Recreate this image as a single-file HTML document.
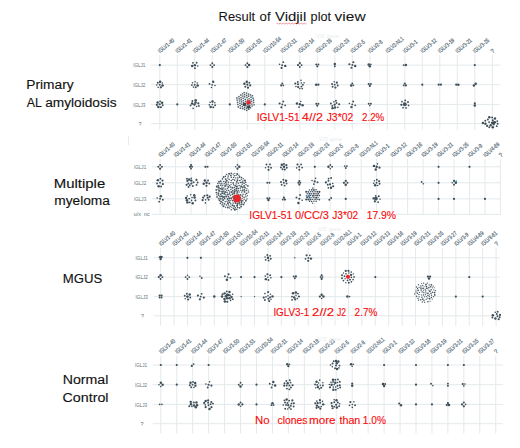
<!DOCTYPE html>
<html><head><meta charset="utf-8"><style>
html,body{margin:0;padding:0;background:#fff;width:520px;height:448px;overflow:hidden}
svg{display:block}
text{font-family:"Liberation Sans",sans-serif}
</style></head><body>
<svg width="520" height="448" viewBox="0 0 520 448" font-family="Liberation Sans, sans-serif">
<rect width="520" height="448" fill="#fff"/>
<text x="218.6" y="21.2" font-size="12.4" fill="#151515" textLength="36.58" lengthAdjust="spacingAndGlyphs" stroke="#151515" stroke-width="0.06" xml:space="preserve">Result</text>
<text x="259.6" y="21.2" font-size="12.4" fill="#151515" textLength="11.0" lengthAdjust="spacingAndGlyphs" stroke="#151515" stroke-width="0.06" xml:space="preserve">of</text>
<text x="275.0" y="21.2" font-size="12.4" fill="#151515" textLength="31.2" lengthAdjust="spacingAndGlyphs" stroke="#151515" stroke-width="0.06" xml:space="preserve">Vidjil</text>
<text x="310.6" y="21.2" font-size="12.4" fill="#151515" textLength="20.4" lengthAdjust="spacingAndGlyphs" stroke="#151515" stroke-width="0.06" xml:space="preserve">plot</text>
<text x="334.6" y="21.2" font-size="12.4" fill="#151515" textLength="30.98" lengthAdjust="spacingAndGlyphs" stroke="#151515" stroke-width="0.06" xml:space="preserve">view</text>
<path d="M276.5 23.6 q0.75 -0.9 1.5 0 t1.5 0 t1.5 0 t1.5 0 t1.5 0 t1.5 0 t1.5 0 t1.5 0 t1.5 0 t1.5 0 t1.5 0 t1.5 0 t1.5 0 t1.5 0 t1.5 0 t1.5 0 t1.5 0 t1.5 0 t1.5 0 t1.5 0" fill="none" stroke="#e05050" stroke-width="0.6"/>
<text x="26.3" y="89.2" font-size="12.3" fill="#111" textLength="47.3" lengthAdjust="spacingAndGlyphs" stroke="#111" stroke-width="0.12" xml:space="preserve">Primary</text>
<text x="26.7" y="106.6" font-size="12.3" fill="#111" textLength="15.15" lengthAdjust="spacingAndGlyphs" stroke="#111" stroke-width="0.12" xml:space="preserve">AL</text>
<text x="45.2" y="106.6" font-size="12.3" fill="#111" textLength="71.53" lengthAdjust="spacingAndGlyphs" stroke="#111" stroke-width="0.12" xml:space="preserve">amyloidosis</text>
<text x="53.75" y="187.5" font-size="12.3" fill="#111" textLength="51.48" lengthAdjust="spacingAndGlyphs" stroke="#111" stroke-width="0.12" xml:space="preserve">Multiple</text>
<text x="54.25" y="205.3" font-size="12.3" fill="#111" textLength="55.7" lengthAdjust="spacingAndGlyphs" stroke="#111" stroke-width="0.12" xml:space="preserve">myeloma</text>
<text x="62.8" y="282.5" font-size="12.3" fill="#111" textLength="39.51" lengthAdjust="spacingAndGlyphs" stroke="#111" stroke-width="0.12" xml:space="preserve">MGUS</text>
<text x="62.8" y="384.0" font-size="12.3" fill="#111" textLength="45.59" lengthAdjust="spacingAndGlyphs" stroke="#111" stroke-width="0.12" xml:space="preserve">Normal</text>
<text x="62.5" y="401.6" font-size="12.3" fill="#111" textLength="46.0" lengthAdjust="spacingAndGlyphs" stroke="#111" stroke-width="0.12" xml:space="preserve">Control</text>
<line x1="159.80" y1="55" x2="159.80" y2="129.8" stroke="#e4e9eb" stroke-width="1"/>
<line x1="177.30" y1="55" x2="177.30" y2="129.8" stroke="#e4e9eb" stroke-width="1"/>
<line x1="194.80" y1="55" x2="194.80" y2="129.8" stroke="#e4e9eb" stroke-width="1"/>
<line x1="212.30" y1="55" x2="212.30" y2="129.8" stroke="#e4e9eb" stroke-width="1"/>
<line x1="229.80" y1="55" x2="229.80" y2="129.8" stroke="#e4e9eb" stroke-width="1"/>
<line x1="247.30" y1="55" x2="247.30" y2="129.8" stroke="#e4e9eb" stroke-width="1"/>
<line x1="264.80" y1="55" x2="264.80" y2="129.8" stroke="#e4e9eb" stroke-width="1"/>
<line x1="282.30" y1="55" x2="282.30" y2="129.8" stroke="#e4e9eb" stroke-width="1"/>
<line x1="299.80" y1="55" x2="299.80" y2="129.8" stroke="#e4e9eb" stroke-width="1"/>
<line x1="317.30" y1="55" x2="317.30" y2="129.8" stroke="#e4e9eb" stroke-width="1"/>
<line x1="334.80" y1="55" x2="334.80" y2="129.8" stroke="#e4e9eb" stroke-width="1"/>
<line x1="352.30" y1="55" x2="352.30" y2="129.8" stroke="#e4e9eb" stroke-width="1"/>
<line x1="369.80" y1="55" x2="369.80" y2="129.8" stroke="#e4e9eb" stroke-width="1"/>
<line x1="387.30" y1="55" x2="387.30" y2="129.8" stroke="#e4e9eb" stroke-width="1"/>
<line x1="404.80" y1="55" x2="404.80" y2="129.8" stroke="#e4e9eb" stroke-width="1"/>
<line x1="422.30" y1="55" x2="422.30" y2="129.8" stroke="#e4e9eb" stroke-width="1"/>
<line x1="439.80" y1="55" x2="439.80" y2="129.8" stroke="#e4e9eb" stroke-width="1"/>
<line x1="457.30" y1="55" x2="457.30" y2="129.8" stroke="#e4e9eb" stroke-width="1"/>
<line x1="474.80" y1="55" x2="474.80" y2="129.8" stroke="#e4e9eb" stroke-width="1"/>
<line x1="492.30" y1="55" x2="492.30" y2="129.8" stroke="#e4e9eb" stroke-width="1"/>
<line x1="151" y1="65.10" x2="500.3" y2="65.10" stroke="#e4e9eb" stroke-width="1"/>
<line x1="151" y1="84.70" x2="500.3" y2="84.70" stroke="#e4e9eb" stroke-width="1"/>
<line x1="151" y1="104.40" x2="500.3" y2="104.40" stroke="#e4e9eb" stroke-width="1"/>
<line x1="151" y1="123.70" x2="500.3" y2="123.70" stroke="#e4e9eb" stroke-width="1"/>
<text x="133.2" y="67.3" font-size="6.1" fill="#62727c" textLength="12.2" lengthAdjust="spacingAndGlyphs" xml:space="preserve">IGLJ1</text>
<text x="133.2" y="86.9" font-size="6.1" fill="#62727c" textLength="12.2" lengthAdjust="spacingAndGlyphs" xml:space="preserve">IGLJ2</text>
<text x="133.2" y="106.60000000000001" font-size="6.1" fill="#62727c" textLength="12.2" lengthAdjust="spacingAndGlyphs" xml:space="preserve">IGLJ3</text>
<text x="138.6" y="125.60000000000001" font-size="5.4" fill="#62727c" xml:space="preserve">?</text>
<text transform="translate(160.10,53.40) rotate(-40)" font-size="6.0" fill="#4f6470" stroke="#4f6470" stroke-width="0.18" textLength="19.2" lengthAdjust="spacingAndGlyphs">IGLV1-40</text>
<text transform="translate(177.60,53.40) rotate(-40)" font-size="6.0" fill="#4f6470" stroke="#4f6470" stroke-width="0.18" textLength="19.2" lengthAdjust="spacingAndGlyphs">IGLV1-41</text>
<text transform="translate(195.10,53.40) rotate(-40)" font-size="6.0" fill="#4f6470" stroke="#4f6470" stroke-width="0.18" textLength="19.2" lengthAdjust="spacingAndGlyphs">IGLV1-44</text>
<text transform="translate(212.60,53.40) rotate(-40)" font-size="6.0" fill="#4f6470" stroke="#4f6470" stroke-width="0.18" textLength="19.2" lengthAdjust="spacingAndGlyphs">IGLV1-47</text>
<text transform="translate(230.10,53.40) rotate(-40)" font-size="6.0" fill="#4f6470" stroke="#4f6470" stroke-width="0.18" textLength="19.2" lengthAdjust="spacingAndGlyphs">IGLV1-50</text>
<text transform="translate(247.60,53.40) rotate(-40)" font-size="6.0" fill="#4f6470" stroke="#4f6470" stroke-width="0.18" textLength="19.2" lengthAdjust="spacingAndGlyphs">IGLV1-51</text>
<text transform="translate(265.10,53.40) rotate(-40)" font-size="6.0" fill="#4f6470" stroke="#4f6470" stroke-width="0.18" textLength="21.6" lengthAdjust="spacingAndGlyphs">IGLV10-54</text>
<text transform="translate(282.60,53.40) rotate(-40)" font-size="6.0" fill="#4f6470" stroke="#4f6470" stroke-width="0.18" textLength="19.2" lengthAdjust="spacingAndGlyphs">IGLV2-11</text>
<text transform="translate(300.10,53.40) rotate(-40)" font-size="6.0" fill="#4f6470" stroke="#4f6470" stroke-width="0.18" textLength="19.2" lengthAdjust="spacingAndGlyphs">IGLV2-14</text>
<text transform="translate(317.60,53.40) rotate(-40)" font-size="6.0" fill="#4f6470" stroke="#4f6470" stroke-width="0.18" textLength="19.2" lengthAdjust="spacingAndGlyphs">IGLV2-18</text>
<text transform="translate(335.10,53.40) rotate(-40)" font-size="6.0" fill="#4f6470" stroke="#4f6470" stroke-width="0.18" textLength="19.2" lengthAdjust="spacingAndGlyphs">IGLV2-23</text>
<text transform="translate(352.60,53.40) rotate(-40)" font-size="6.0" fill="#4f6470" stroke="#4f6470" stroke-width="0.18" textLength="16.8" lengthAdjust="spacingAndGlyphs">IGLV2-5</text>
<text transform="translate(370.10,53.40) rotate(-40)" font-size="6.0" fill="#4f6470" stroke="#4f6470" stroke-width="0.18" textLength="16.8" lengthAdjust="spacingAndGlyphs">IGLV2-8</text>
<text transform="translate(387.60,53.40) rotate(-40)" font-size="6.0" fill="#4f6470" stroke="#4f6470" stroke-width="0.18" textLength="21.6" lengthAdjust="spacingAndGlyphs">IGLV2-NL1</text>
<text transform="translate(405.10,53.40) rotate(-40)" font-size="6.0" fill="#4f6470" stroke="#4f6470" stroke-width="0.18" textLength="16.8" lengthAdjust="spacingAndGlyphs">IGLV3-1</text>
<text transform="translate(422.60,53.40) rotate(-40)" font-size="6.0" fill="#4f6470" stroke="#4f6470" stroke-width="0.18" textLength="19.2" lengthAdjust="spacingAndGlyphs">IGLV3-12</text>
<text transform="translate(440.10,53.40) rotate(-40)" font-size="6.0" fill="#4f6470" stroke="#4f6470" stroke-width="0.18" textLength="19.2" lengthAdjust="spacingAndGlyphs">IGLV3-19</text>
<text transform="translate(457.60,53.40) rotate(-40)" font-size="6.0" fill="#4f6470" stroke="#4f6470" stroke-width="0.18" textLength="19.2" lengthAdjust="spacingAndGlyphs">IGLV3-21</text>
<text transform="translate(475.10,53.40) rotate(-40)" font-size="6.0" fill="#4f6470" stroke="#4f6470" stroke-width="0.18" textLength="19.2" lengthAdjust="spacingAndGlyphs">IGLV3-25</text>
<text transform="translate(492.60,53.40) rotate(-40)" font-size="6.0" fill="#4f6470" stroke="#4f6470" stroke-width="0.18">?</text>
<line x1="160.10" y1="159.1" x2="160.10" y2="214.8" stroke="#e4e9eb" stroke-width="1"/>
<line x1="175.57" y1="159.1" x2="175.57" y2="214.8" stroke="#e4e9eb" stroke-width="1"/>
<line x1="191.04" y1="159.1" x2="191.04" y2="214.8" stroke="#e4e9eb" stroke-width="1"/>
<line x1="206.51" y1="159.1" x2="206.51" y2="214.8" stroke="#e4e9eb" stroke-width="1"/>
<line x1="221.98" y1="159.1" x2="221.98" y2="214.8" stroke="#e4e9eb" stroke-width="1"/>
<line x1="237.45" y1="159.1" x2="237.45" y2="214.8" stroke="#e4e9eb" stroke-width="1"/>
<line x1="252.92" y1="159.1" x2="252.92" y2="214.8" stroke="#e4e9eb" stroke-width="1"/>
<line x1="268.39" y1="159.1" x2="268.39" y2="214.8" stroke="#e4e9eb" stroke-width="1"/>
<line x1="283.86" y1="159.1" x2="283.86" y2="214.8" stroke="#e4e9eb" stroke-width="1"/>
<line x1="299.33" y1="159.1" x2="299.33" y2="214.8" stroke="#e4e9eb" stroke-width="1"/>
<line x1="314.80" y1="159.1" x2="314.80" y2="214.8" stroke="#e4e9eb" stroke-width="1"/>
<line x1="330.27" y1="159.1" x2="330.27" y2="214.8" stroke="#e4e9eb" stroke-width="1"/>
<line x1="345.74" y1="159.1" x2="345.74" y2="214.8" stroke="#e4e9eb" stroke-width="1"/>
<line x1="361.21" y1="159.1" x2="361.21" y2="214.8" stroke="#e4e9eb" stroke-width="1"/>
<line x1="376.68" y1="159.1" x2="376.68" y2="214.8" stroke="#e4e9eb" stroke-width="1"/>
<line x1="392.15" y1="159.1" x2="392.15" y2="214.8" stroke="#e4e9eb" stroke-width="1"/>
<line x1="407.62" y1="159.1" x2="407.62" y2="214.8" stroke="#e4e9eb" stroke-width="1"/>
<line x1="423.09" y1="159.1" x2="423.09" y2="214.8" stroke="#e4e9eb" stroke-width="1"/>
<line x1="438.56" y1="159.1" x2="438.56" y2="214.8" stroke="#e4e9eb" stroke-width="1"/>
<line x1="454.03" y1="159.1" x2="454.03" y2="214.8" stroke="#e4e9eb" stroke-width="1"/>
<line x1="469.50" y1="159.1" x2="469.50" y2="214.8" stroke="#e4e9eb" stroke-width="1"/>
<line x1="484.97" y1="159.1" x2="484.97" y2="214.8" stroke="#e4e9eb" stroke-width="1"/>
<line x1="500.44" y1="159.1" x2="500.44" y2="214.8" stroke="#e4e9eb" stroke-width="1"/>
<line x1="152" y1="166.80" x2="500.5" y2="166.80" stroke="#e4e9eb" stroke-width="1"/>
<line x1="152" y1="182.80" x2="500.5" y2="182.80" stroke="#e4e9eb" stroke-width="1"/>
<line x1="152" y1="198.90" x2="500.5" y2="198.90" stroke="#e4e9eb" stroke-width="1"/>
<line x1="152" y1="214.40" x2="500.5" y2="214.40" stroke="#e4e9eb" stroke-width="1"/>
<text x="134.0" y="169.0" font-size="6.1" fill="#62727c" textLength="12.2" lengthAdjust="spacingAndGlyphs" xml:space="preserve">IGLJ1</text>
<text x="134.0" y="185.0" font-size="6.1" fill="#62727c" textLength="12.2" lengthAdjust="spacingAndGlyphs" xml:space="preserve">IGLJ2</text>
<text x="134.0" y="201.1" font-size="6.1" fill="#62727c" textLength="12.2" lengthAdjust="spacingAndGlyphs" xml:space="preserve">IGLJ3</text>
<text x="133.8" y="216.3" font-size="5.4" fill="#62727c" xml:space="preserve">u/x  nc</text>
<text transform="translate(160.40,157.50) rotate(-40)" font-size="6.0" fill="#4f6470" stroke="#4f6470" stroke-width="0.18" textLength="19.2" lengthAdjust="spacingAndGlyphs">IGLV1-40</text>
<text transform="translate(175.87,157.50) rotate(-40)" font-size="6.0" fill="#4f6470" stroke="#4f6470" stroke-width="0.18" textLength="19.2" lengthAdjust="spacingAndGlyphs">IGLV1-41</text>
<text transform="translate(191.34,157.50) rotate(-40)" font-size="6.0" fill="#4f6470" stroke="#4f6470" stroke-width="0.18" textLength="19.2" lengthAdjust="spacingAndGlyphs">IGLV1-44</text>
<text transform="translate(206.81,157.50) rotate(-40)" font-size="6.0" fill="#4f6470" stroke="#4f6470" stroke-width="0.18" textLength="19.2" lengthAdjust="spacingAndGlyphs">IGLV1-47</text>
<text transform="translate(222.28,157.50) rotate(-40)" font-size="6.0" fill="#4f6470" stroke="#4f6470" stroke-width="0.18" textLength="19.2" lengthAdjust="spacingAndGlyphs">IGLV1-50</text>
<text transform="translate(237.75,157.50) rotate(-40)" font-size="6.0" fill="#4f6470" stroke="#4f6470" stroke-width="0.18" textLength="19.2" lengthAdjust="spacingAndGlyphs">IGLV1-51</text>
<text transform="translate(253.22,157.50) rotate(-40)" font-size="6.0" fill="#4f6470" stroke="#4f6470" stroke-width="0.18" textLength="21.6" lengthAdjust="spacingAndGlyphs">IGLV10-54</text>
<text transform="translate(268.69,157.50) rotate(-40)" font-size="6.0" fill="#4f6470" stroke="#4f6470" stroke-width="0.18" textLength="19.2" lengthAdjust="spacingAndGlyphs">IGLV2-11</text>
<text transform="translate(284.16,157.50) rotate(-40)" font-size="6.0" fill="#4f6470" stroke="#4f6470" stroke-width="0.18" textLength="19.2" lengthAdjust="spacingAndGlyphs">IGLV2-14</text>
<text transform="translate(299.63,157.50) rotate(-40)" font-size="6.0" fill="#4f6470" stroke="#4f6470" stroke-width="0.18" textLength="19.2" lengthAdjust="spacingAndGlyphs">IGLV2-18</text>
<text transform="translate(315.10,157.50) rotate(-40)" font-size="6.0" fill="#4f6470" stroke="#4f6470" stroke-width="0.18" textLength="19.2" lengthAdjust="spacingAndGlyphs">IGLV2-23</text>
<text transform="translate(330.57,157.50) rotate(-40)" font-size="6.0" fill="#4f6470" stroke="#4f6470" stroke-width="0.18" textLength="16.8" lengthAdjust="spacingAndGlyphs">IGLV2-5</text>
<text transform="translate(346.04,157.50) rotate(-40)" font-size="6.0" fill="#4f6470" stroke="#4f6470" stroke-width="0.18" textLength="16.8" lengthAdjust="spacingAndGlyphs">IGLV2-8</text>
<text transform="translate(361.51,157.50) rotate(-40)" font-size="6.0" fill="#4f6470" stroke="#4f6470" stroke-width="0.18" textLength="21.6" lengthAdjust="spacingAndGlyphs">IGLV2-NL1</text>
<text transform="translate(376.98,157.50) rotate(-40)" font-size="6.0" fill="#4f6470" stroke="#4f6470" stroke-width="0.18" textLength="16.8" lengthAdjust="spacingAndGlyphs">IGLV3-1</text>
<text transform="translate(392.45,157.50) rotate(-40)" font-size="6.0" fill="#4f6470" stroke="#4f6470" stroke-width="0.18" textLength="19.2" lengthAdjust="spacingAndGlyphs">IGLV3-12</text>
<text transform="translate(407.92,157.50) rotate(-40)" font-size="6.0" fill="#4f6470" stroke="#4f6470" stroke-width="0.18" textLength="19.2" lengthAdjust="spacingAndGlyphs">IGLV3-16</text>
<text transform="translate(423.39,157.50) rotate(-40)" font-size="6.0" fill="#4f6470" stroke="#4f6470" stroke-width="0.18" textLength="19.2" lengthAdjust="spacingAndGlyphs">IGLV3-19</text>
<text transform="translate(438.86,157.50) rotate(-40)" font-size="6.0" fill="#4f6470" stroke="#4f6470" stroke-width="0.18" textLength="19.2" lengthAdjust="spacingAndGlyphs">IGLV3-21</text>
<text transform="translate(454.33,157.50) rotate(-40)" font-size="6.0" fill="#4f6470" stroke="#4f6470" stroke-width="0.18" textLength="19.2" lengthAdjust="spacingAndGlyphs">IGLV3-25</text>
<text transform="translate(469.80,157.50) rotate(-40)" font-size="6.0" fill="#4f6470" stroke="#4f6470" stroke-width="0.18" textLength="16.8" lengthAdjust="spacingAndGlyphs">IGLV3-9</text>
<text transform="translate(485.27,157.50) rotate(-40)" font-size="6.0" fill="#4f6470" stroke="#4f6470" stroke-width="0.18" textLength="19.2" lengthAdjust="spacingAndGlyphs">IGLV4-69</text>
<text transform="translate(500.74,157.50) rotate(-40)" font-size="6.0" fill="#4f6470" stroke="#4f6470" stroke-width="0.18">?</text>
<line x1="160.60" y1="247.8" x2="160.60" y2="325.9" stroke="#e4e9eb" stroke-width="1"/>
<line x1="174.02" y1="247.8" x2="174.02" y2="325.9" stroke="#e4e9eb" stroke-width="1"/>
<line x1="187.44" y1="247.8" x2="187.44" y2="325.9" stroke="#e4e9eb" stroke-width="1"/>
<line x1="200.86" y1="247.8" x2="200.86" y2="325.9" stroke="#e4e9eb" stroke-width="1"/>
<line x1="214.28" y1="247.8" x2="214.28" y2="325.9" stroke="#e4e9eb" stroke-width="1"/>
<line x1="227.70" y1="247.8" x2="227.70" y2="325.9" stroke="#e4e9eb" stroke-width="1"/>
<line x1="241.12" y1="247.8" x2="241.12" y2="325.9" stroke="#e4e9eb" stroke-width="1"/>
<line x1="254.54" y1="247.8" x2="254.54" y2="325.9" stroke="#e4e9eb" stroke-width="1"/>
<line x1="267.96" y1="247.8" x2="267.96" y2="325.9" stroke="#e4e9eb" stroke-width="1"/>
<line x1="281.38" y1="247.8" x2="281.38" y2="325.9" stroke="#e4e9eb" stroke-width="1"/>
<line x1="294.80" y1="247.8" x2="294.80" y2="325.9" stroke="#e4e9eb" stroke-width="1"/>
<line x1="308.22" y1="247.8" x2="308.22" y2="325.9" stroke="#e4e9eb" stroke-width="1"/>
<line x1="321.64" y1="247.8" x2="321.64" y2="325.9" stroke="#e4e9eb" stroke-width="1"/>
<line x1="335.06" y1="247.8" x2="335.06" y2="325.9" stroke="#e4e9eb" stroke-width="1"/>
<line x1="348.48" y1="247.8" x2="348.48" y2="325.9" stroke="#e4e9eb" stroke-width="1"/>
<line x1="361.90" y1="247.8" x2="361.90" y2="325.9" stroke="#e4e9eb" stroke-width="1"/>
<line x1="375.32" y1="247.8" x2="375.32" y2="325.9" stroke="#e4e9eb" stroke-width="1"/>
<line x1="388.74" y1="247.8" x2="388.74" y2="325.9" stroke="#e4e9eb" stroke-width="1"/>
<line x1="402.16" y1="247.8" x2="402.16" y2="325.9" stroke="#e4e9eb" stroke-width="1"/>
<line x1="415.58" y1="247.8" x2="415.58" y2="325.9" stroke="#e4e9eb" stroke-width="1"/>
<line x1="429.00" y1="247.8" x2="429.00" y2="325.9" stroke="#e4e9eb" stroke-width="1"/>
<line x1="442.42" y1="247.8" x2="442.42" y2="325.9" stroke="#e4e9eb" stroke-width="1"/>
<line x1="455.84" y1="247.8" x2="455.84" y2="325.9" stroke="#e4e9eb" stroke-width="1"/>
<line x1="469.26" y1="247.8" x2="469.26" y2="325.9" stroke="#e4e9eb" stroke-width="1"/>
<line x1="482.68" y1="247.8" x2="482.68" y2="325.9" stroke="#e4e9eb" stroke-width="1"/>
<line x1="496.10" y1="247.8" x2="496.10" y2="325.9" stroke="#e4e9eb" stroke-width="1"/>
<line x1="153.6" y1="257.80" x2="499.8" y2="257.80" stroke="#e4e9eb" stroke-width="1"/>
<line x1="153.6" y1="277.10" x2="499.8" y2="277.10" stroke="#e4e9eb" stroke-width="1"/>
<line x1="153.6" y1="296.60" x2="499.8" y2="296.60" stroke="#e4e9eb" stroke-width="1"/>
<line x1="153.6" y1="315.80" x2="499.8" y2="315.80" stroke="#e4e9eb" stroke-width="1"/>
<text x="135.6" y="260.0" font-size="6.1" fill="#62727c" textLength="12.2" lengthAdjust="spacingAndGlyphs" xml:space="preserve">IGLJ1</text>
<text x="135.6" y="279.3" font-size="6.1" fill="#62727c" textLength="12.2" lengthAdjust="spacingAndGlyphs" xml:space="preserve">IGLJ2</text>
<text x="135.6" y="298.8" font-size="6.1" fill="#62727c" textLength="12.2" lengthAdjust="spacingAndGlyphs" xml:space="preserve">IGLJ3</text>
<text x="141.0" y="317.7" font-size="5.4" fill="#62727c" xml:space="preserve">?</text>
<text transform="translate(160.90,246.20) rotate(-40)" font-size="6.0" fill="#4f6470" stroke="#4f6470" stroke-width="0.18" textLength="19.2" lengthAdjust="spacingAndGlyphs">IGLV1-40</text>
<text transform="translate(174.32,246.20) rotate(-40)" font-size="6.0" fill="#4f6470" stroke="#4f6470" stroke-width="0.18" textLength="19.2" lengthAdjust="spacingAndGlyphs">IGLV1-41</text>
<text transform="translate(187.74,246.20) rotate(-40)" font-size="6.0" fill="#4f6470" stroke="#4f6470" stroke-width="0.18" textLength="19.2" lengthAdjust="spacingAndGlyphs">IGLV1-44</text>
<text transform="translate(201.16,246.20) rotate(-40)" font-size="6.0" fill="#4f6470" stroke="#4f6470" stroke-width="0.18" textLength="19.2" lengthAdjust="spacingAndGlyphs">IGLV1-47</text>
<text transform="translate(214.58,246.20) rotate(-40)" font-size="6.0" fill="#4f6470" stroke="#4f6470" stroke-width="0.18" textLength="19.2" lengthAdjust="spacingAndGlyphs">IGLV1-50</text>
<text transform="translate(228.00,246.20) rotate(-40)" font-size="6.0" fill="#4f6470" stroke="#4f6470" stroke-width="0.18" textLength="19.2" lengthAdjust="spacingAndGlyphs">IGLV1-51</text>
<text transform="translate(241.42,246.20) rotate(-40)" font-size="6.0" fill="#4f6470" stroke="#4f6470" stroke-width="0.18" textLength="21.6" lengthAdjust="spacingAndGlyphs">IGLV10-54</text>
<text transform="translate(254.84,246.20) rotate(-40)" font-size="6.0" fill="#4f6470" stroke="#4f6470" stroke-width="0.18" textLength="19.2" lengthAdjust="spacingAndGlyphs">IGLV2-11</text>
<text transform="translate(268.26,246.20) rotate(-40)" font-size="6.0" fill="#4f6470" stroke="#4f6470" stroke-width="0.18" textLength="19.2" lengthAdjust="spacingAndGlyphs">IGLV2-14</text>
<text transform="translate(281.68,246.20) rotate(-40)" font-size="6.0" fill="#4f6470" stroke="#4f6470" stroke-width="0.18" textLength="19.2" lengthAdjust="spacingAndGlyphs">IGLV2-18</text>
<text transform="translate(295.10,246.20) rotate(-40)" font-size="6.0" fill="#4f6470" stroke="#4f6470" stroke-width="0.18" textLength="19.2" lengthAdjust="spacingAndGlyphs">IGLV2-23</text>
<text transform="translate(308.52,246.20) rotate(-40)" font-size="6.0" fill="#4f6470" stroke="#4f6470" stroke-width="0.18" textLength="16.8" lengthAdjust="spacingAndGlyphs">IGLV2-5</text>
<text transform="translate(321.94,246.20) rotate(-40)" font-size="6.0" fill="#4f6470" stroke="#4f6470" stroke-width="0.18" textLength="16.8" lengthAdjust="spacingAndGlyphs">IGLV2-8</text>
<text transform="translate(335.36,246.20) rotate(-40)" font-size="6.0" fill="#4f6470" stroke="#4f6470" stroke-width="0.18" textLength="21.6" lengthAdjust="spacingAndGlyphs">IGLV2-NL1</text>
<text transform="translate(348.78,246.20) rotate(-40)" font-size="6.0" fill="#4f6470" stroke="#4f6470" stroke-width="0.18" textLength="16.8" lengthAdjust="spacingAndGlyphs">IGLV3-1</text>
<text transform="translate(362.20,246.20) rotate(-40)" font-size="6.0" fill="#4f6470" stroke="#4f6470" stroke-width="0.18" textLength="19.2" lengthAdjust="spacingAndGlyphs">IGLV3-12</text>
<text transform="translate(375.62,246.20) rotate(-40)" font-size="6.0" fill="#4f6470" stroke="#4f6470" stroke-width="0.18" textLength="19.2" lengthAdjust="spacingAndGlyphs">IGLV3-13</text>
<text transform="translate(389.04,246.20) rotate(-40)" font-size="6.0" fill="#4f6470" stroke="#4f6470" stroke-width="0.18" textLength="19.2" lengthAdjust="spacingAndGlyphs">IGLV3-16</text>
<text transform="translate(402.46,246.20) rotate(-40)" font-size="6.0" fill="#4f6470" stroke="#4f6470" stroke-width="0.18" textLength="19.2" lengthAdjust="spacingAndGlyphs">IGLV3-19</text>
<text transform="translate(415.88,246.20) rotate(-40)" font-size="6.0" fill="#4f6470" stroke="#4f6470" stroke-width="0.18" textLength="19.2" lengthAdjust="spacingAndGlyphs">IGLV3-21</text>
<text transform="translate(429.30,246.20) rotate(-40)" font-size="6.0" fill="#4f6470" stroke="#4f6470" stroke-width="0.18" textLength="19.2" lengthAdjust="spacingAndGlyphs">IGLV3-25</text>
<text transform="translate(442.72,246.20) rotate(-40)" font-size="6.0" fill="#4f6470" stroke="#4f6470" stroke-width="0.18" textLength="19.2" lengthAdjust="spacingAndGlyphs">IGLV3-27</text>
<text transform="translate(456.14,246.20) rotate(-40)" font-size="6.0" fill="#4f6470" stroke="#4f6470" stroke-width="0.18" textLength="16.8" lengthAdjust="spacingAndGlyphs">IGLV3-9</text>
<text transform="translate(469.56,246.20) rotate(-40)" font-size="6.0" fill="#4f6470" stroke="#4f6470" stroke-width="0.18" textLength="19.2" lengthAdjust="spacingAndGlyphs">IGLV4-69</text>
<text transform="translate(482.98,246.20) rotate(-40)" font-size="6.0" fill="#4f6470" stroke="#4f6470" stroke-width="0.18" textLength="19.2" lengthAdjust="spacingAndGlyphs">IGLV8-61</text>
<text transform="translate(496.40,246.20) rotate(-40)" font-size="6.0" fill="#4f6470" stroke="#4f6470" stroke-width="0.18">?</text>
<line x1="160.80" y1="355.6" x2="160.80" y2="433.5" stroke="#e4e9eb" stroke-width="1"/>
<line x1="176.75" y1="355.6" x2="176.75" y2="433.5" stroke="#e4e9eb" stroke-width="1"/>
<line x1="192.70" y1="355.6" x2="192.70" y2="433.5" stroke="#e4e9eb" stroke-width="1"/>
<line x1="208.65" y1="355.6" x2="208.65" y2="433.5" stroke="#e4e9eb" stroke-width="1"/>
<line x1="224.60" y1="355.6" x2="224.60" y2="433.5" stroke="#e4e9eb" stroke-width="1"/>
<line x1="240.55" y1="355.6" x2="240.55" y2="433.5" stroke="#e4e9eb" stroke-width="1"/>
<line x1="256.50" y1="355.6" x2="256.50" y2="433.5" stroke="#e4e9eb" stroke-width="1"/>
<line x1="272.45" y1="355.6" x2="272.45" y2="433.5" stroke="#e4e9eb" stroke-width="1"/>
<line x1="288.40" y1="355.6" x2="288.40" y2="433.5" stroke="#e4e9eb" stroke-width="1"/>
<line x1="304.35" y1="355.6" x2="304.35" y2="433.5" stroke="#e4e9eb" stroke-width="1"/>
<line x1="320.30" y1="355.6" x2="320.30" y2="433.5" stroke="#e4e9eb" stroke-width="1"/>
<line x1="336.25" y1="355.6" x2="336.25" y2="433.5" stroke="#e4e9eb" stroke-width="1"/>
<line x1="352.20" y1="355.6" x2="352.20" y2="433.5" stroke="#e4e9eb" stroke-width="1"/>
<line x1="368.15" y1="355.6" x2="368.15" y2="433.5" stroke="#e4e9eb" stroke-width="1"/>
<line x1="384.10" y1="355.6" x2="384.10" y2="433.5" stroke="#e4e9eb" stroke-width="1"/>
<line x1="400.05" y1="355.6" x2="400.05" y2="433.5" stroke="#e4e9eb" stroke-width="1"/>
<line x1="416.00" y1="355.6" x2="416.00" y2="433.5" stroke="#e4e9eb" stroke-width="1"/>
<line x1="431.95" y1="355.6" x2="431.95" y2="433.5" stroke="#e4e9eb" stroke-width="1"/>
<line x1="447.90" y1="355.6" x2="447.90" y2="433.5" stroke="#e4e9eb" stroke-width="1"/>
<line x1="463.85" y1="355.6" x2="463.85" y2="433.5" stroke="#e4e9eb" stroke-width="1"/>
<line x1="479.80" y1="355.6" x2="479.80" y2="433.5" stroke="#e4e9eb" stroke-width="1"/>
<line x1="495.75" y1="355.6" x2="495.75" y2="433.5" stroke="#e4e9eb" stroke-width="1"/>
<line x1="152.7" y1="365.00" x2="503" y2="365.00" stroke="#e4e9eb" stroke-width="1"/>
<line x1="152.7" y1="384.70" x2="503" y2="384.70" stroke="#e4e9eb" stroke-width="1"/>
<line x1="152.7" y1="404.40" x2="503" y2="404.40" stroke="#e4e9eb" stroke-width="1"/>
<line x1="152.7" y1="423.70" x2="503" y2="423.70" stroke="#e4e9eb" stroke-width="1"/>
<text x="134.9" y="367.2" font-size="6.1" fill="#62727c" textLength="12.2" lengthAdjust="spacingAndGlyphs" xml:space="preserve">IGLJ1</text>
<text x="134.9" y="386.9" font-size="6.1" fill="#62727c" textLength="12.2" lengthAdjust="spacingAndGlyphs" xml:space="preserve">IGLJ2</text>
<text x="134.9" y="406.59999999999997" font-size="6.1" fill="#62727c" textLength="12.2" lengthAdjust="spacingAndGlyphs" xml:space="preserve">IGLJ3</text>
<text x="140.5" y="425.59999999999997" font-size="5.4" fill="#62727c" xml:space="preserve">?</text>
<text transform="translate(161.10,354.00) rotate(-40)" font-size="6.0" fill="#4f6470" stroke="#4f6470" stroke-width="0.18" textLength="19.2" lengthAdjust="spacingAndGlyphs">IGLV1-40</text>
<text transform="translate(177.05,354.00) rotate(-40)" font-size="6.0" fill="#4f6470" stroke="#4f6470" stroke-width="0.18" textLength="19.2" lengthAdjust="spacingAndGlyphs">IGLV1-41</text>
<text transform="translate(193.00,354.00) rotate(-40)" font-size="6.0" fill="#4f6470" stroke="#4f6470" stroke-width="0.18" textLength="19.2" lengthAdjust="spacingAndGlyphs">IGLV1-44</text>
<text transform="translate(208.95,354.00) rotate(-40)" font-size="6.0" fill="#4f6470" stroke="#4f6470" stroke-width="0.18" textLength="19.2" lengthAdjust="spacingAndGlyphs">IGLV1-47</text>
<text transform="translate(224.90,354.00) rotate(-40)" font-size="6.0" fill="#4f6470" stroke="#4f6470" stroke-width="0.18" textLength="19.2" lengthAdjust="spacingAndGlyphs">IGLV1-50</text>
<text transform="translate(240.85,354.00) rotate(-40)" font-size="6.0" fill="#4f6470" stroke="#4f6470" stroke-width="0.18" textLength="19.2" lengthAdjust="spacingAndGlyphs">IGLV1-51</text>
<text transform="translate(256.80,354.00) rotate(-40)" font-size="6.0" fill="#4f6470" stroke="#4f6470" stroke-width="0.18" textLength="21.6" lengthAdjust="spacingAndGlyphs">IGLV10-54</text>
<text transform="translate(272.75,354.00) rotate(-40)" font-size="6.0" fill="#4f6470" stroke="#4f6470" stroke-width="0.18" textLength="19.2" lengthAdjust="spacingAndGlyphs">IGLV2-11</text>
<text transform="translate(288.70,354.00) rotate(-40)" font-size="6.0" fill="#4f6470" stroke="#4f6470" stroke-width="0.18" textLength="19.2" lengthAdjust="spacingAndGlyphs">IGLV2-14</text>
<text transform="translate(304.65,354.00) rotate(-40)" font-size="6.0" fill="#4f6470" stroke="#4f6470" stroke-width="0.18" textLength="19.2" lengthAdjust="spacingAndGlyphs">IGLV2-18</text>
<text transform="translate(320.60,354.00) rotate(-40)" font-size="6.0" fill="#4f6470" stroke="#4f6470" stroke-width="0.18" textLength="19.2" lengthAdjust="spacingAndGlyphs">IGLV2-23</text>
<text transform="translate(336.55,354.00) rotate(-40)" font-size="6.0" fill="#4f6470" stroke="#4f6470" stroke-width="0.18" textLength="16.8" lengthAdjust="spacingAndGlyphs">IGLV2-5</text>
<text transform="translate(352.50,354.00) rotate(-40)" font-size="6.0" fill="#4f6470" stroke="#4f6470" stroke-width="0.18" textLength="16.8" lengthAdjust="spacingAndGlyphs">IGLV2-8</text>
<text transform="translate(368.45,354.00) rotate(-40)" font-size="6.0" fill="#4f6470" stroke="#4f6470" stroke-width="0.18" textLength="21.6" lengthAdjust="spacingAndGlyphs">IGLV2-NL1</text>
<text transform="translate(384.40,354.00) rotate(-40)" font-size="6.0" fill="#4f6470" stroke="#4f6470" stroke-width="0.18" textLength="16.8" lengthAdjust="spacingAndGlyphs">IGLV3-1</text>
<text transform="translate(400.35,354.00) rotate(-40)" font-size="6.0" fill="#4f6470" stroke="#4f6470" stroke-width="0.18" textLength="19.2" lengthAdjust="spacingAndGlyphs">IGLV3-12</text>
<text transform="translate(416.30,354.00) rotate(-40)" font-size="6.0" fill="#4f6470" stroke="#4f6470" stroke-width="0.18" textLength="19.2" lengthAdjust="spacingAndGlyphs">IGLV3-16</text>
<text transform="translate(432.25,354.00) rotate(-40)" font-size="6.0" fill="#4f6470" stroke="#4f6470" stroke-width="0.18" textLength="19.2" lengthAdjust="spacingAndGlyphs">IGLV3-19</text>
<text transform="translate(448.20,354.00) rotate(-40)" font-size="6.0" fill="#4f6470" stroke="#4f6470" stroke-width="0.18" textLength="19.2" lengthAdjust="spacingAndGlyphs">IGLV3-21</text>
<text transform="translate(464.15,354.00) rotate(-40)" font-size="6.0" fill="#4f6470" stroke="#4f6470" stroke-width="0.18" textLength="19.2" lengthAdjust="spacingAndGlyphs">IGLV3-25</text>
<text transform="translate(480.10,354.00) rotate(-40)" font-size="6.0" fill="#4f6470" stroke="#4f6470" stroke-width="0.18" textLength="19.2" lengthAdjust="spacingAndGlyphs">IGLV3-27</text>
<text transform="translate(496.05,354.00) rotate(-40)" font-size="6.0" fill="#4f6470" stroke="#4f6470" stroke-width="0.18">?</text>
<circle cx="159.80" cy="65.10" r="1.09" fill="#3e4e58"/>
<circle cx="159.72" cy="84.71" r="0.95" fill="#3e4e58"/>
<circle cx="162.57" cy="85.60" r="1.23" fill="#3e4e58"/>
<circle cx="160.91" cy="87.31" r="1.09" fill="#3e4e58"/>
<circle cx="158.18" cy="87.35" r="0.81" fill="#3e4e58"/>
<circle cx="156.82" cy="85.06" r="0.81" fill="#3e4e58"/>
<circle cx="157.80" cy="82.69" r="0.95" fill="#3e4e58"/>
<circle cx="160.12" cy="81.76" r="1.23" fill="#3e4e58"/>
<circle cx="162.27" cy="82.94" r="0.81" fill="#3e4e58"/>
<circle cx="159.74" cy="104.26" r="1.09" fill="#3e4e58"/>
<circle cx="162.72" cy="105.26" r="0.95" fill="#3e4e58"/>
<circle cx="160.94" cy="107.25" r="1.09" fill="#3e4e58"/>
<circle cx="158.39" cy="107.07" r="1.23" fill="#3e4e58"/>
<circle cx="156.86" cy="104.93" r="1.09" fill="#3e4e58"/>
<circle cx="157.63" cy="102.53" r="1.23" fill="#3e4e58"/>
<circle cx="160.14" cy="101.35" r="0.95" fill="#3e4e58"/>
<circle cx="162.12" cy="102.66" r="1.23" fill="#3e4e58"/>
<circle cx="177.30" cy="104.40" r="1.09" fill="#3e4e58"/>
<circle cx="194.83" cy="65.13" r="1.23" fill="#3e4e58"/>
<circle cx="197.73" cy="66.02" r="0.81" fill="#3e4e58"/>
<circle cx="194.97" cy="68.15" r="0.95" fill="#3e4e58"/>
<circle cx="192.16" cy="66.10" r="1.23" fill="#3e4e58"/>
<circle cx="192.94" cy="62.85" r="0.95" fill="#3e4e58"/>
<circle cx="196.63" cy="62.82" r="0.95" fill="#3e4e58"/>
<circle cx="194.69" cy="84.69" r="0.95" fill="#3e4e58"/>
<circle cx="197.65" cy="85.56" r="1.23" fill="#3e4e58"/>
<circle cx="195.83" cy="87.31" r="0.95" fill="#3e4e58"/>
<circle cx="193.45" cy="87.10" r="0.81" fill="#3e4e58"/>
<circle cx="191.87" cy="85.11" r="0.95" fill="#3e4e58"/>
<circle cx="192.53" cy="82.73" r="0.81" fill="#3e4e58"/>
<circle cx="195.10" cy="81.73" r="0.81" fill="#3e4e58"/>
<circle cx="197.26" cy="83.06" r="0.81" fill="#3e4e58"/>
<circle cx="195.68" cy="100.28" r="1.23" fill="#3e4e58"/>
<circle cx="192.14" cy="103.59" r="1.23" fill="#3e4e58"/>
<circle cx="193.16" cy="108.43" r="0.81" fill="#3e4e58"/>
<circle cx="198.29" cy="103.33" r="1.09" fill="#3e4e58"/>
<circle cx="194.45" cy="104.58" r="1.23" fill="#3e4e58"/>
<circle cx="190.58" cy="105.42" r="0.95" fill="#3e4e58"/>
<circle cx="196.62" cy="106.49" r="0.81" fill="#3e4e58"/>
<circle cx="192.38" cy="101.07" r="0.95" fill="#3e4e58"/>
<circle cx="195.58" cy="102.53" r="1.23" fill="#3e4e58"/>
<circle cx="198.86" cy="105.92" r="0.95" fill="#3e4e58"/>
<circle cx="212.30" cy="63.20" r="0.95" fill="#3e4e58"/>
<circle cx="210.50" cy="65.10" r="0.95" fill="#3e4e58"/>
<circle cx="214.10" cy="65.10" r="0.95" fill="#3e4e58"/>
<circle cx="212.30" cy="67.00" r="1.09" fill="#3e4e58"/>
<circle cx="212.19" cy="84.83" r="0.95" fill="#3e4e58"/>
<circle cx="215.00" cy="85.52" r="0.81" fill="#3e4e58"/>
<circle cx="211.50" cy="87.54" r="0.81" fill="#3e4e58"/>
<circle cx="209.51" cy="83.88" r="0.95" fill="#3e4e58"/>
<circle cx="213.16" cy="81.84" r="1.23" fill="#3e4e58"/>
<circle cx="212.31" cy="104.47" r="0.81" fill="#3e4e58"/>
<circle cx="215.07" cy="105.20" r="0.95" fill="#3e4e58"/>
<circle cx="213.34" cy="107.25" r="0.95" fill="#3e4e58"/>
<circle cx="210.69" cy="106.95" r="1.23" fill="#3e4e58"/>
<circle cx="209.32" cy="104.92" r="0.81" fill="#3e4e58"/>
<circle cx="210.10" cy="102.35" r="0.81" fill="#3e4e58"/>
<circle cx="212.49" cy="101.48" r="1.23" fill="#3e4e58"/>
<circle cx="214.81" cy="102.70" r="0.81" fill="#3e4e58"/>
<circle cx="229.80" cy="104.40" r="1.09" fill="#3e4e58"/>
<circle cx="247.30" cy="63.20" r="0.95" fill="#3e4e58"/>
<circle cx="245.50" cy="65.10" r="0.95" fill="#3e4e58"/>
<circle cx="249.10" cy="65.10" r="1.23" fill="#3e4e58"/>
<circle cx="247.30" cy="67.00" r="1.09" fill="#3e4e58"/>
<circle cx="247.35" cy="84.67" r="1.09" fill="#3e4e58"/>
<circle cx="250.25" cy="85.46" r="1.09" fill="#3e4e58"/>
<circle cx="247.98" cy="87.67" r="1.09" fill="#3e4e58"/>
<circle cx="245.23" cy="86.71" r="0.95" fill="#3e4e58"/>
<circle cx="244.39" cy="83.73" r="1.23" fill="#3e4e58"/>
<circle cx="246.76" cy="81.79" r="1.23" fill="#3e4e58"/>
<circle cx="249.39" cy="82.80" r="0.95" fill="#3e4e58"/>
<circle cx="244.20" cy="92.49" r="0.85" fill="#56666f"/>
<circle cx="246.45" cy="93.10" r="0.85" fill="#56666f"/>
<circle cx="248.62" cy="94.06" r="0.85" fill="#56666f"/>
<circle cx="250.62" cy="94.97" r="0.85" fill="#56666f"/>
<circle cx="252.52" cy="95.76" r="0.85" fill="#56666f"/>
<circle cx="242.47" cy="93.73" r="0.85" fill="#56666f"/>
<circle cx="244.55" cy="94.56" r="0.85" fill="#56666f"/>
<circle cx="246.55" cy="95.39" r="0.85" fill="#56666f"/>
<circle cx="248.63" cy="96.22" r="0.85" fill="#56666f"/>
<circle cx="251.00" cy="97.15" r="0.85" fill="#56666f"/>
<circle cx="253.03" cy="98.19" r="0.85" fill="#56666f"/>
<circle cx="240.79" cy="95.05" r="0.85" fill="#56666f"/>
<circle cx="242.82" cy="96.07" r="0.85" fill="#56666f"/>
<circle cx="244.71" cy="96.73" r="0.85" fill="#56666f"/>
<circle cx="246.96" cy="97.51" r="0.85" fill="#56666f"/>
<circle cx="249.07" cy="98.73" r="0.85" fill="#56666f"/>
<circle cx="251.14" cy="99.54" r="0.85" fill="#56666f"/>
<circle cx="253.52" cy="100.18" r="0.85" fill="#56666f"/>
<circle cx="238.90" cy="96.63" r="0.85" fill="#56666f"/>
<circle cx="241.04" cy="97.54" r="0.85" fill="#56666f"/>
<circle cx="243.16" cy="98.24" r="0.85" fill="#56666f"/>
<circle cx="245.23" cy="99.33" r="0.85" fill="#56666f"/>
<circle cx="247.46" cy="100.01" r="0.85" fill="#56666f"/>
<circle cx="249.54" cy="100.88" r="0.85" fill="#56666f"/>
<circle cx="251.50" cy="101.48" r="0.85" fill="#56666f"/>
<circle cx="253.60" cy="102.39" r="0.85" fill="#56666f"/>
<circle cx="236.84" cy="97.90" r="0.85" fill="#56666f"/>
<circle cx="239.17" cy="98.86" r="0.85" fill="#56666f"/>
<circle cx="241.18" cy="99.72" r="0.85" fill="#56666f"/>
<circle cx="243.30" cy="100.50" r="0.85" fill="#56666f"/>
<circle cx="245.61" cy="101.40" r="0.85" fill="#56666f"/>
<circle cx="247.45" cy="102.36" r="0.85" fill="#56666f"/>
<circle cx="249.87" cy="103.11" r="0.85" fill="#56666f"/>
<circle cx="251.85" cy="103.98" r="0.85" fill="#56666f"/>
<circle cx="254.11" cy="104.76" r="0.85" fill="#56666f"/>
<circle cx="237.15" cy="100.05" r="0.85" fill="#56666f"/>
<circle cx="239.58" cy="101.00" r="0.85" fill="#56666f"/>
<circle cx="241.59" cy="101.84" r="0.85" fill="#56666f"/>
<circle cx="243.63" cy="102.65" r="0.85" fill="#56666f"/>
<circle cx="245.83" cy="103.54" r="0.85" fill="#56666f"/>
<circle cx="247.84" cy="104.32" r="0.85" fill="#56666f"/>
<circle cx="249.96" cy="105.35" r="0.85" fill="#56666f"/>
<circle cx="252.13" cy="106.02" r="0.85" fill="#56666f"/>
<circle cx="237.60" cy="102.47" r="0.85" fill="#56666f"/>
<circle cx="239.89" cy="103.23" r="0.85" fill="#56666f"/>
<circle cx="241.85" cy="104.18" r="0.85" fill="#56666f"/>
<circle cx="243.76" cy="105.20" r="0.85" fill="#56666f"/>
<circle cx="246.10" cy="105.76" r="0.85" fill="#56666f"/>
<circle cx="248.31" cy="106.69" r="0.85" fill="#56666f"/>
<circle cx="250.47" cy="107.64" r="0.85" fill="#56666f"/>
<circle cx="237.86" cy="104.56" r="0.85" fill="#56666f"/>
<circle cx="240.18" cy="105.60" r="0.85" fill="#56666f"/>
<circle cx="242.31" cy="106.54" r="0.85" fill="#56666f"/>
<circle cx="244.52" cy="107.36" r="0.85" fill="#56666f"/>
<circle cx="246.40" cy="108.11" r="0.85" fill="#56666f"/>
<circle cx="248.69" cy="109.19" r="0.85" fill="#56666f"/>
<circle cx="238.25" cy="106.89" r="0.85" fill="#56666f"/>
<circle cx="240.38" cy="108.13" r="0.85" fill="#56666f"/>
<circle cx="242.62" cy="108.62" r="0.85" fill="#56666f"/>
<circle cx="244.54" cy="109.43" r="0.85" fill="#56666f"/>
<circle cx="246.73" cy="110.29" r="0.85" fill="#56666f"/>
<circle cx="244.50" cy="104.50" r="1.72" fill="#3a4850"/>
<circle cx="248.50" cy="107.00" r="1.72" fill="#3a4850"/>
<circle cx="248.60" cy="102.40" r="2.18" fill="#e8262b"/>
<circle cx="264.80" cy="104.40" r="1.09" fill="#3e4e58"/>
<circle cx="282.17" cy="65.15" r="0.95" fill="#3e4e58"/>
<circle cx="285.23" cy="65.88" r="1.23" fill="#3e4e58"/>
<circle cx="281.57" cy="67.90" r="1.09" fill="#3e4e58"/>
<circle cx="279.58" cy="64.36" r="0.81" fill="#3e4e58"/>
<circle cx="283.30" cy="62.15" r="0.95" fill="#3e4e58"/>
<circle cx="282.30" cy="83.50" r="0.95" fill="#3e4e58"/>
<circle cx="281.20" cy="85.40" r="1.09" fill="#3e4e58"/>
<circle cx="283.40" cy="85.40" r="0.81" fill="#3e4e58"/>
<circle cx="282.30" cy="104.41" r="0.95" fill="#3e4e58"/>
<circle cx="285.12" cy="105.35" r="0.95" fill="#3e4e58"/>
<circle cx="281.40" cy="107.31" r="1.09" fill="#3e4e58"/>
<circle cx="279.60" cy="103.50" r="1.09" fill="#3e4e58"/>
<circle cx="283.30" cy="101.55" r="0.95" fill="#3e4e58"/>
<circle cx="299.80" cy="63.20" r="1.09" fill="#3e4e58"/>
<circle cx="298.00" cy="65.10" r="1.09" fill="#3e4e58"/>
<circle cx="301.60" cy="65.10" r="0.95" fill="#3e4e58"/>
<circle cx="299.80" cy="67.00" r="0.95" fill="#3e4e58"/>
<circle cx="302.86" cy="84.77" r="0.95" fill="#3e4e58"/>
<circle cx="302.21" cy="88.66" r="0.81" fill="#3e4e58"/>
<circle cx="295.91" cy="86.53" r="0.81" fill="#3e4e58"/>
<circle cx="301.33" cy="82.98" r="0.81" fill="#3e4e58"/>
<circle cx="298.00" cy="84.23" r="1.09" fill="#3e4e58"/>
<circle cx="297.77" cy="81.92" r="0.95" fill="#3e4e58"/>
<circle cx="299.85" cy="88.58" r="0.81" fill="#3e4e58"/>
<circle cx="300.97" cy="80.33" r="0.81" fill="#3e4e58"/>
<circle cx="301.41" cy="86.60" r="0.95" fill="#3e4e58"/>
<circle cx="298.11" cy="87.08" r="1.09" fill="#3e4e58"/>
<circle cx="295.31" cy="83.49" r="1.09" fill="#3e4e58"/>
<circle cx="304.09" cy="82.77" r="0.81" fill="#3e4e58"/>
<circle cx="299.90" cy="104.35" r="1.23" fill="#3e4e58"/>
<circle cx="302.58" cy="105.29" r="1.23" fill="#3e4e58"/>
<circle cx="299.05" cy="107.12" r="0.95" fill="#3e4e58"/>
<circle cx="296.96" cy="103.41" r="1.23" fill="#3e4e58"/>
<circle cx="300.71" cy="101.45" r="0.81" fill="#3e4e58"/>
<circle cx="316.20" cy="64.40" r="0.95" fill="#3e4e58"/>
<circle cx="318.40" cy="64.40" r="0.95" fill="#3e4e58"/>
<circle cx="317.30" cy="66.30" r="1.09" fill="#3e4e58"/>
<circle cx="316.20" cy="84.70" r="1.23" fill="#3e4e58"/>
<circle cx="318.40" cy="84.70" r="1.09" fill="#3e4e58"/>
<circle cx="316.20" cy="103.70" r="0.95" fill="#3e4e58"/>
<circle cx="318.40" cy="103.70" r="0.95" fill="#3e4e58"/>
<circle cx="317.30" cy="105.60" r="1.09" fill="#3e4e58"/>
<circle cx="334.80" cy="64.00" r="1.23" fill="#3e4e58"/>
<circle cx="334.80" cy="66.20" r="0.95" fill="#3e4e58"/>
<circle cx="334.71" cy="84.64" r="0.95" fill="#3e4e58"/>
<circle cx="337.73" cy="85.46" r="0.95" fill="#3e4e58"/>
<circle cx="335.46" cy="87.60" r="1.09" fill="#3e4e58"/>
<circle cx="332.60" cy="86.78" r="0.95" fill="#3e4e58"/>
<circle cx="332.11" cy="83.94" r="0.95" fill="#3e4e58"/>
<circle cx="334.22" cy="81.74" r="0.81" fill="#3e4e58"/>
<circle cx="336.82" cy="82.68" r="1.09" fill="#3e4e58"/>
<circle cx="333.90" cy="101.87" r="0.81" fill="#3e4e58"/>
<circle cx="337.89" cy="107.33" r="0.81" fill="#3e4e58"/>
<circle cx="330.91" cy="103.53" r="0.95" fill="#3e4e58"/>
<circle cx="336.51" cy="103.00" r="0.95" fill="#3e4e58"/>
<circle cx="334.29" cy="104.97" r="0.81" fill="#3e4e58"/>
<circle cx="332.30" cy="105.90" r="0.95" fill="#3e4e58"/>
<circle cx="339.16" cy="104.25" r="1.09" fill="#3e4e58"/>
<circle cx="335.05" cy="107.48" r="1.23" fill="#3e4e58"/>
<circle cx="332.58" cy="108.13" r="1.23" fill="#3e4e58"/>
<circle cx="335.91" cy="100.78" r="0.95" fill="#3e4e58"/>
<circle cx="334.80" cy="104.40" r="1.00" fill="#3a4850"/>
<circle cx="352.34" cy="64.97" r="0.95" fill="#3e4e58"/>
<circle cx="355.16" cy="65.97" r="1.23" fill="#3e4e58"/>
<circle cx="351.57" cy="67.76" r="1.09" fill="#3e4e58"/>
<circle cx="349.36" cy="64.28" r="1.09" fill="#3e4e58"/>
<circle cx="353.30" cy="62.27" r="1.09" fill="#3e4e58"/>
<circle cx="352.30" cy="83.50" r="0.95" fill="#3e4e58"/>
<circle cx="351.20" cy="85.40" r="1.23" fill="#3e4e58"/>
<circle cx="353.40" cy="85.40" r="0.81" fill="#3e4e58"/>
<circle cx="352.25" cy="104.39" r="0.95" fill="#3e4e58"/>
<circle cx="355.15" cy="105.35" r="0.95" fill="#3e4e58"/>
<circle cx="351.51" cy="107.12" r="1.23" fill="#3e4e58"/>
<circle cx="349.37" cy="103.46" r="0.81" fill="#3e4e58"/>
<circle cx="353.16" cy="101.57" r="0.95" fill="#3e4e58"/>
<circle cx="368.70" cy="64.40" r="1.23" fill="#3e4e58"/>
<circle cx="370.90" cy="64.40" r="0.81" fill="#3e4e58"/>
<circle cx="369.80" cy="66.30" r="1.23" fill="#3e4e58"/>
<circle cx="368.70" cy="84.00" r="1.09" fill="#3e4e58"/>
<circle cx="370.90" cy="84.00" r="0.95" fill="#3e4e58"/>
<circle cx="369.80" cy="85.90" r="1.09" fill="#3e4e58"/>
<circle cx="368.70" cy="103.70" r="0.95" fill="#3e4e58"/>
<circle cx="370.90" cy="103.70" r="0.95" fill="#3e4e58"/>
<circle cx="369.80" cy="105.60" r="0.81" fill="#3e4e58"/>
<circle cx="403.70" cy="65.10" r="0.95" fill="#3e4e58"/>
<circle cx="405.90" cy="65.10" r="1.23" fill="#3e4e58"/>
<circle cx="404.80" cy="83.50" r="1.09" fill="#3e4e58"/>
<circle cx="403.70" cy="85.40" r="0.95" fill="#3e4e58"/>
<circle cx="405.90" cy="85.40" r="1.09" fill="#3e4e58"/>
<circle cx="408.53" cy="105.43" r="0.85" fill="#3e4e58"/>
<circle cx="406.09" cy="107.90" r="0.85" fill="#3e4e58"/>
<circle cx="403.06" cy="107.63" r="0.85" fill="#3e4e58"/>
<circle cx="401.34" cy="104.79" r="1.10" fill="#3e4e58"/>
<circle cx="401.95" cy="101.65" r="0.85" fill="#3e4e58"/>
<circle cx="405.21" cy="100.38" r="0.98" fill="#3e4e58"/>
<circle cx="407.97" cy="102.02" r="0.98" fill="#3e4e58"/>
<circle cx="404.80" cy="104.30" r="2.00" fill="#44545d"/>
<circle cx="422.30" cy="84.70" r="1.09" fill="#3e4e58"/>
<circle cx="438.70" cy="84.70" r="1.09" fill="#3e4e58"/>
<circle cx="440.90" cy="84.70" r="1.09" fill="#3e4e58"/>
<circle cx="456.20" cy="84.70" r="1.09" fill="#3e4e58"/>
<circle cx="458.40" cy="84.70" r="1.23" fill="#3e4e58"/>
<circle cx="474.80" cy="65.10" r="1.09" fill="#3e4e58"/>
<circle cx="473.90" cy="85.60" r="1.23" fill="#3e4e58"/>
<circle cx="475.70" cy="83.80" r="1.23" fill="#3e4e58"/>
<circle cx="474.80" cy="103.30" r="1.09" fill="#3e4e58"/>
<circle cx="474.80" cy="105.50" r="1.23" fill="#3e4e58"/>
<circle cx="485.30" cy="120.78" r="0.95" fill="#3e4e58"/>
<circle cx="493.78" cy="124.50" r="0.95" fill="#3e4e58"/>
<circle cx="492.80" cy="127.19" r="1.23" fill="#3e4e58"/>
<circle cx="497.27" cy="121.10" r="0.95" fill="#3e4e58"/>
<circle cx="491.80" cy="122.70" r="0.95" fill="#3e4e58"/>
<circle cx="489.07" cy="122.09" r="0.95" fill="#3e4e58"/>
<circle cx="487.16" cy="125.92" r="1.09" fill="#3e4e58"/>
<circle cx="492.10" cy="117.55" r="0.95" fill="#3e4e58"/>
<circle cx="487.85" cy="119.57" r="0.95" fill="#3e4e58"/>
<circle cx="490.74" cy="125.23" r="1.23" fill="#3e4e58"/>
<circle cx="496.70" cy="126.17" r="0.95" fill="#3e4e58"/>
<circle cx="495.02" cy="118.55" r="1.23" fill="#3e4e58"/>
<circle cx="485.42" cy="123.77" r="1.23" fill="#3e4e58"/>
<circle cx="492.71" cy="120.24" r="1.09" fill="#3e4e58"/>
<circle cx="482.90" cy="123.07" r="1.23" fill="#3e4e58"/>
<circle cx="497.66" cy="123.74" r="0.95" fill="#3e4e58"/>
<circle cx="494.90" cy="122.19" r="1.23" fill="#3e4e58"/>
<circle cx="489.27" cy="117.34" r="1.23" fill="#3e4e58"/>
<circle cx="489.26" cy="127.28" r="0.95" fill="#3e4e58"/>
<circle cx="493.30" cy="122.90" r="1.61" fill="#3a4850"/>
<circle cx="160.10" cy="164.90" r="0.95" fill="#3e4e58"/>
<circle cx="158.30" cy="166.80" r="0.95" fill="#3e4e58"/>
<circle cx="161.90" cy="166.80" r="0.95" fill="#3e4e58"/>
<circle cx="160.10" cy="168.70" r="1.09" fill="#3e4e58"/>
<circle cx="160.08" cy="182.67" r="0.95" fill="#3e4e58"/>
<circle cx="162.86" cy="184.05" r="1.09" fill="#3e4e58"/>
<circle cx="161.10" cy="186.48" r="0.95" fill="#3e4e58"/>
<circle cx="158.67" cy="186.26" r="1.23" fill="#3e4e58"/>
<circle cx="157.06" cy="183.54" r="0.95" fill="#3e4e58"/>
<circle cx="157.87" cy="180.13" r="1.23" fill="#3e4e58"/>
<circle cx="160.41" cy="178.70" r="0.95" fill="#3e4e58"/>
<circle cx="162.51" cy="180.59" r="1.09" fill="#3e4e58"/>
<circle cx="160.09" cy="198.76" r="0.95" fill="#3e4e58"/>
<circle cx="162.83" cy="199.74" r="0.95" fill="#3e4e58"/>
<circle cx="159.19" cy="201.64" r="0.95" fill="#3e4e58"/>
<circle cx="157.20" cy="198.00" r="0.81" fill="#3e4e58"/>
<circle cx="160.86" cy="196.13" r="1.23" fill="#3e4e58"/>
<circle cx="191.04" cy="165.00" r="1.09" fill="#3e4e58"/>
<circle cx="190.04" cy="166.80" r="1.09" fill="#3e4e58"/>
<circle cx="192.04" cy="166.80" r="0.95" fill="#3e4e58"/>
<circle cx="191.04" cy="168.60" r="0.95" fill="#3e4e58"/>
<circle cx="191.31" cy="178.33" r="0.81" fill="#3e4e58"/>
<circle cx="192.85" cy="185.97" r="0.95" fill="#3e4e58"/>
<circle cx="196.54" cy="184.89" r="0.95" fill="#3e4e58"/>
<circle cx="197.58" cy="182.52" r="0.95" fill="#3e4e58"/>
<circle cx="187.41" cy="180.94" r="1.09" fill="#3e4e58"/>
<circle cx="191.38" cy="183.48" r="1.09" fill="#3e4e58"/>
<circle cx="193.59" cy="182.21" r="0.95" fill="#3e4e58"/>
<circle cx="188.54" cy="187.04" r="0.95" fill="#3e4e58"/>
<circle cx="186.62" cy="184.85" r="1.09" fill="#3e4e58"/>
<circle cx="196.43" cy="179.96" r="1.09" fill="#3e4e58"/>
<circle cx="191.30" cy="180.62" r="1.23" fill="#3e4e58"/>
<circle cx="186.94" cy="178.69" r="0.95" fill="#3e4e58"/>
<circle cx="189.22" cy="179.56" r="1.23" fill="#3e4e58"/>
<circle cx="189.83" cy="185.22" r="0.95" fill="#3e4e58"/>
<circle cx="188.39" cy="183.47" r="0.95" fill="#3e4e58"/>
<circle cx="186.91" cy="200.19" r="1.23" fill="#3e4e58"/>
<circle cx="189.64" cy="202.37" r="0.95" fill="#3e4e58"/>
<circle cx="194.23" cy="195.19" r="1.23" fill="#3e4e58"/>
<circle cx="187.16" cy="196.03" r="0.81" fill="#3e4e58"/>
<circle cx="192.08" cy="197.44" r="0.81" fill="#3e4e58"/>
<circle cx="190.68" cy="194.69" r="0.81" fill="#3e4e58"/>
<circle cx="191.60" cy="200.38" r="0.81" fill="#3e4e58"/>
<circle cx="189.15" cy="198.59" r="0.95" fill="#3e4e58"/>
<circle cx="195.41" cy="200.51" r="0.95" fill="#3e4e58"/>
<circle cx="194.64" cy="197.53" r="1.23" fill="#3e4e58"/>
<circle cx="192.71" cy="203.24" r="1.23" fill="#3e4e58"/>
<circle cx="186.10" cy="198.01" r="1.23" fill="#3e4e58"/>
<circle cx="187.42" cy="202.39" r="1.23" fill="#3e4e58"/>
<circle cx="205.41" cy="166.80" r="1.09" fill="#3e4e58"/>
<circle cx="207.61" cy="166.80" r="0.95" fill="#3e4e58"/>
<circle cx="206.57" cy="182.67" r="1.23" fill="#3e4e58"/>
<circle cx="209.25" cy="183.57" r="0.95" fill="#3e4e58"/>
<circle cx="206.44" cy="185.83" r="1.09" fill="#3e4e58"/>
<circle cx="203.73" cy="183.84" r="1.23" fill="#3e4e58"/>
<circle cx="204.82" cy="180.50" r="1.23" fill="#3e4e58"/>
<circle cx="208.06" cy="180.44" r="0.95" fill="#3e4e58"/>
<circle cx="208.66" cy="199.77" r="0.95" fill="#3e4e58"/>
<circle cx="205.56" cy="199.82" r="0.81" fill="#3e4e58"/>
<circle cx="203.14" cy="197.59" r="1.09" fill="#3e4e58"/>
<circle cx="205.35" cy="202.89" r="0.81" fill="#3e4e58"/>
<circle cx="207.71" cy="197.77" r="1.09" fill="#3e4e58"/>
<circle cx="207.30" cy="195.36" r="1.09" fill="#3e4e58"/>
<circle cx="204.52" cy="195.72" r="0.95" fill="#3e4e58"/>
<circle cx="209.66" cy="196.64" r="1.09" fill="#3e4e58"/>
<circle cx="202.61" cy="200.17" r="1.09" fill="#3e4e58"/>
<circle cx="237.45" cy="164.90" r="0.81" fill="#3e4e58"/>
<circle cx="235.65" cy="166.80" r="0.81" fill="#3e4e58"/>
<circle cx="239.25" cy="166.80" r="1.23" fill="#3e4e58"/>
<circle cx="237.45" cy="168.70" r="1.09" fill="#3e4e58"/>
<circle cx="237.26" cy="201.37" r="0.80" fill="#4a5a63"/>
<circle cx="225.79" cy="194.79" r="0.68" fill="#4a5a63"/>
<circle cx="240.45" cy="182.52" r="0.80" fill="#4a5a63"/>
<circle cx="246.01" cy="184.70" r="0.80" fill="#4a5a63"/>
<circle cx="229.56" cy="193.91" r="0.80" fill="#4a5a63"/>
<circle cx="223.82" cy="188.02" r="0.80" fill="#4a5a63"/>
<circle cx="243.03" cy="194.27" r="0.80" fill="#4a5a63"/>
<circle cx="234.20" cy="193.16" r="1.04" fill="#4a5a63"/>
<circle cx="240.23" cy="188.12" r="0.80" fill="#4a5a63"/>
<circle cx="233.19" cy="174.15" r="0.68" fill="#4a5a63"/>
<circle cx="233.20" cy="202.93" r="0.80" fill="#4a5a63"/>
<circle cx="229.15" cy="173.82" r="1.04" fill="#4a5a63"/>
<circle cx="221.91" cy="196.23" r="1.04" fill="#4a5a63"/>
<circle cx="240.01" cy="204.92" r="0.80" fill="#4a5a63"/>
<circle cx="234.90" cy="209.67" r="1.04" fill="#4a5a63"/>
<circle cx="222.22" cy="193.21" r="1.04" fill="#4a5a63"/>
<circle cx="234.20" cy="195.27" r="0.80" fill="#4a5a63"/>
<circle cx="239.11" cy="185.60" r="0.80" fill="#4a5a63"/>
<circle cx="222.52" cy="178.88" r="0.80" fill="#4a5a63"/>
<circle cx="228.38" cy="196.65" r="0.80" fill="#4a5a63"/>
<circle cx="240.60" cy="194.90" r="0.92" fill="#4a5a63"/>
<circle cx="231.30" cy="180.48" r="0.80" fill="#4a5a63"/>
<circle cx="225.63" cy="179.25" r="0.92" fill="#4a5a63"/>
<circle cx="238.32" cy="188.55" r="0.80" fill="#4a5a63"/>
<circle cx="237.50" cy="180.19" r="0.92" fill="#4a5a63"/>
<circle cx="221.98" cy="187.13" r="0.68" fill="#4a5a63"/>
<circle cx="234.62" cy="199.15" r="0.68" fill="#4a5a63"/>
<circle cx="218.68" cy="187.60" r="1.04" fill="#4a5a63"/>
<circle cx="216.38" cy="192.55" r="0.92" fill="#4a5a63"/>
<circle cx="246.93" cy="199.00" r="0.68" fill="#4a5a63"/>
<circle cx="233.23" cy="182.90" r="0.92" fill="#4a5a63"/>
<circle cx="233.56" cy="184.79" r="0.68" fill="#4a5a63"/>
<circle cx="236.08" cy="175.41" r="0.68" fill="#4a5a63"/>
<circle cx="222.04" cy="189.12" r="1.04" fill="#4a5a63"/>
<circle cx="242.69" cy="187.58" r="1.04" fill="#4a5a63"/>
<circle cx="227.87" cy="203.33" r="1.04" fill="#4a5a63"/>
<circle cx="244.14" cy="199.26" r="0.68" fill="#4a5a63"/>
<circle cx="233.62" cy="177.49" r="0.80" fill="#4a5a63"/>
<circle cx="222.19" cy="204.70" r="0.80" fill="#4a5a63"/>
<circle cx="231.34" cy="209.79" r="0.80" fill="#4a5a63"/>
<circle cx="222.76" cy="185.22" r="0.80" fill="#4a5a63"/>
<circle cx="228.10" cy="184.30" r="0.68" fill="#4a5a63"/>
<circle cx="232.48" cy="187.75" r="1.04" fill="#4a5a63"/>
<circle cx="218.87" cy="198.66" r="0.92" fill="#4a5a63"/>
<circle cx="237.09" cy="205.70" r="1.04" fill="#4a5a63"/>
<circle cx="221.86" cy="183.24" r="0.80" fill="#4a5a63"/>
<circle cx="232.78" cy="200.55" r="0.92" fill="#4a5a63"/>
<circle cx="235.50" cy="203.19" r="0.92" fill="#4a5a63"/>
<circle cx="234.66" cy="180.13" r="0.80" fill="#4a5a63"/>
<circle cx="228.40" cy="187.00" r="1.04" fill="#4a5a63"/>
<circle cx="227.05" cy="192.44" r="0.80" fill="#4a5a63"/>
<circle cx="227.59" cy="199.00" r="0.92" fill="#4a5a63"/>
<circle cx="221.02" cy="201.66" r="0.92" fill="#4a5a63"/>
<circle cx="231.26" cy="198.40" r="1.04" fill="#4a5a63"/>
<circle cx="220.67" cy="181.18" r="0.92" fill="#4a5a63"/>
<circle cx="227.80" cy="207.50" r="1.04" fill="#4a5a63"/>
<circle cx="220.82" cy="198.86" r="0.92" fill="#4a5a63"/>
<circle cx="244.34" cy="202.90" r="0.80" fill="#4a5a63"/>
<circle cx="238.98" cy="175.29" r="0.68" fill="#4a5a63"/>
<circle cx="225.21" cy="201.72" r="0.80" fill="#4a5a63"/>
<circle cx="242.34" cy="196.16" r="0.80" fill="#4a5a63"/>
<circle cx="225.16" cy="185.98" r="1.04" fill="#4a5a63"/>
<circle cx="224.40" cy="203.94" r="0.92" fill="#4a5a63"/>
<circle cx="235.76" cy="178.00" r="0.68" fill="#4a5a63"/>
<circle cx="245.85" cy="196.75" r="0.68" fill="#4a5a63"/>
<circle cx="229.24" cy="179.49" r="0.80" fill="#4a5a63"/>
<circle cx="230.95" cy="182.38" r="0.68" fill="#4a5a63"/>
<circle cx="238.57" cy="198.71" r="0.80" fill="#4a5a63"/>
<circle cx="231.29" cy="177.35" r="0.80" fill="#4a5a63"/>
<circle cx="223.83" cy="181.43" r="0.80" fill="#4a5a63"/>
<circle cx="241.41" cy="179.31" r="0.80" fill="#4a5a63"/>
<circle cx="234.34" cy="187.45" r="0.68" fill="#4a5a63"/>
<circle cx="245.85" cy="200.76" r="0.92" fill="#4a5a63"/>
<circle cx="243.07" cy="180.59" r="0.68" fill="#4a5a63"/>
<circle cx="239.32" cy="202.92" r="1.04" fill="#4a5a63"/>
<circle cx="239.86" cy="180.62" r="0.80" fill="#4a5a63"/>
<circle cx="230.06" cy="206.20" r="0.80" fill="#4a5a63"/>
<circle cx="225.23" cy="192.00" r="1.04" fill="#4a5a63"/>
<circle cx="246.63" cy="193.31" r="0.92" fill="#4a5a63"/>
<circle cx="245.68" cy="182.35" r="0.80" fill="#4a5a63"/>
<circle cx="224.28" cy="193.65" r="1.04" fill="#4a5a63"/>
<circle cx="224.73" cy="198.64" r="0.80" fill="#4a5a63"/>
<circle cx="246.29" cy="190.54" r="0.80" fill="#4a5a63"/>
<circle cx="234.24" cy="206.04" r="1.04" fill="#4a5a63"/>
<circle cx="242.12" cy="198.23" r="0.68" fill="#4a5a63"/>
<circle cx="235.57" cy="196.80" r="0.92" fill="#4a5a63"/>
<circle cx="225.71" cy="189.01" r="0.80" fill="#4a5a63"/>
<circle cx="246.84" cy="188.60" r="0.68" fill="#4a5a63"/>
<circle cx="228.15" cy="176.11" r="0.80" fill="#4a5a63"/>
<circle cx="236.20" cy="183.93" r="0.68" fill="#4a5a63"/>
<circle cx="239.12" cy="191.98" r="0.68" fill="#4a5a63"/>
<circle cx="226.40" cy="204.94" r="0.80" fill="#4a5a63"/>
<circle cx="237.81" cy="177.98" r="0.80" fill="#4a5a63"/>
<circle cx="241.78" cy="204.28" r="0.92" fill="#4a5a63"/>
<circle cx="238.29" cy="196.93" r="0.80" fill="#4a5a63"/>
<circle cx="231.76" cy="207.14" r="0.68" fill="#4a5a63"/>
<circle cx="229.39" cy="198.37" r="1.04" fill="#4a5a63"/>
<circle cx="239.13" cy="200.76" r="0.80" fill="#4a5a63"/>
<circle cx="228.70" cy="190.46" r="0.80" fill="#4a5a63"/>
<circle cx="232.52" cy="205.18" r="1.04" fill="#4a5a63"/>
<circle cx="230.70" cy="187.10" r="0.80" fill="#4a5a63"/>
<circle cx="223.14" cy="199.92" r="1.04" fill="#4a5a63"/>
<circle cx="220.88" cy="185.13" r="0.80" fill="#4a5a63"/>
<circle cx="223.63" cy="177.00" r="0.92" fill="#4a5a63"/>
<circle cx="216.26" cy="189.88" r="0.92" fill="#4a5a63"/>
<circle cx="232.89" cy="190.58" r="0.80" fill="#4a5a63"/>
<circle cx="223.98" cy="196.88" r="1.04" fill="#4a5a63"/>
<circle cx="217.86" cy="183.47" r="0.80" fill="#4a5a63"/>
<circle cx="230.71" cy="203.81" r="0.80" fill="#4a5a63"/>
<circle cx="219.11" cy="190.84" r="1.04" fill="#4a5a63"/>
<circle cx="244.54" cy="191.93" r="0.92" fill="#4a5a63"/>
<circle cx="237.70" cy="207.55" r="0.80" fill="#4a5a63"/>
<circle cx="235.34" cy="207.73" r="0.80" fill="#4a5a63"/>
<circle cx="229.71" cy="207.97" r="0.68" fill="#4a5a63"/>
<circle cx="221.11" cy="191.51" r="0.80" fill="#4a5a63"/>
<circle cx="248.49" cy="191.95" r="0.80" fill="#4a5a63"/>
<circle cx="225.33" cy="176.38" r="0.80" fill="#4a5a63"/>
<circle cx="247.80" cy="185.88" r="0.92" fill="#4a5a63"/>
<circle cx="236.75" cy="181.95" r="0.92" fill="#4a5a63"/>
<circle cx="236.16" cy="190.44" r="0.80" fill="#4a5a63"/>
<circle cx="228.48" cy="182.30" r="0.80" fill="#4a5a63"/>
<circle cx="230.81" cy="175.41" r="0.92" fill="#4a5a63"/>
<circle cx="218.57" cy="195.11" r="0.92" fill="#4a5a63"/>
<circle cx="236.99" cy="193.83" r="0.80" fill="#4a5a63"/>
<circle cx="242.18" cy="184.34" r="0.68" fill="#4a5a63"/>
<circle cx="231.79" cy="192.08" r="1.04" fill="#4a5a63"/>
<circle cx="230.84" cy="189.54" r="0.80" fill="#4a5a63"/>
<circle cx="240.39" cy="190.15" r="0.68" fill="#4a5a63"/>
<circle cx="244.31" cy="189.86" r="0.92" fill="#4a5a63"/>
<circle cx="231.09" cy="184.34" r="0.68" fill="#4a5a63"/>
<circle cx="227.79" cy="194.55" r="1.04" fill="#4a5a63"/>
<circle cx="224.25" cy="183.80" r="0.68" fill="#4a5a63"/>
<circle cx="225.75" cy="182.20" r="0.92" fill="#4a5a63"/>
<circle cx="231.31" cy="173.39" r="0.80" fill="#4a5a63"/>
<circle cx="230.52" cy="195.45" r="0.80" fill="#4a5a63"/>
<circle cx="241.48" cy="202.09" r="1.04" fill="#4a5a63"/>
<circle cx="218.42" cy="193.18" r="0.92" fill="#4a5a63"/>
<circle cx="233.11" cy="196.92" r="1.04" fill="#4a5a63"/>
<circle cx="225.47" cy="207.18" r="0.68" fill="#4a5a63"/>
<circle cx="245.02" cy="187.70" r="0.92" fill="#4a5a63"/>
<circle cx="244.11" cy="186.02" r="0.92" fill="#4a5a63"/>
<circle cx="227.93" cy="178.10" r="0.80" fill="#4a5a63"/>
<circle cx="218.97" cy="181.79" r="0.92" fill="#4a5a63"/>
<circle cx="223.98" cy="189.99" r="0.80" fill="#4a5a63"/>
<circle cx="238.46" cy="183.26" r="0.68" fill="#4a5a63"/>
<circle cx="239.61" cy="177.03" r="0.92" fill="#4a5a63"/>
<circle cx="228.83" cy="200.68" r="0.92" fill="#4a5a63"/>
<circle cx="220.20" cy="188.63" r="0.92" fill="#4a5a63"/>
<circle cx="244.13" cy="183.35" r="0.80" fill="#4a5a63"/>
<circle cx="227.02" cy="201.30" r="0.80" fill="#4a5a63"/>
<circle cx="234.82" cy="173.37" r="0.68" fill="#4a5a63"/>
<circle cx="216.83" cy="186.63" r="1.04" fill="#4a5a63"/>
<circle cx="230.68" cy="200.62" r="0.68" fill="#4a5a63"/>
<circle cx="239.67" cy="207.81" r="0.92" fill="#4a5a63"/>
<circle cx="242.79" cy="200.78" r="0.80" fill="#4a5a63"/>
<circle cx="240.27" cy="197.44" r="0.68" fill="#4a5a63"/>
<circle cx="236.87" cy="186.55" r="1.04" fill="#4a5a63"/>
<circle cx="226.87" cy="180.74" r="0.92" fill="#4a5a63"/>
<circle cx="241.60" cy="192.19" r="0.68" fill="#4a5a63"/>
<circle cx="247.36" cy="195.67" r="0.68" fill="#4a5a63"/>
<circle cx="238.75" cy="194.47" r="0.68" fill="#4a5a63"/>
<circle cx="242.40" cy="182.39" r="1.04" fill="#4a5a63"/>
<circle cx="217.07" cy="196.91" r="0.92" fill="#4a5a63"/>
<circle cx="226.18" cy="196.61" r="1.04" fill="#4a5a63"/>
<circle cx="241.19" cy="186.35" r="1.04" fill="#4a5a63"/>
<circle cx="236.75" cy="209.21" r="0.80" fill="#4a5a63"/>
<circle cx="233.56" cy="208.43" r="0.92" fill="#4a5a63"/>
<circle cx="223.47" cy="206.18" r="1.04" fill="#4a5a63"/>
<circle cx="220.64" cy="194.35" r="0.80" fill="#4a5a63"/>
<circle cx="241.24" cy="206.60" r="0.92" fill="#4a5a63"/>
<circle cx="236.52" cy="199.53" r="0.92" fill="#4a5a63"/>
<circle cx="232.42" cy="194.24" r="0.92" fill="#4a5a63"/>
<circle cx="219.52" cy="200.39" r="0.92" fill="#4a5a63"/>
<circle cx="226.58" cy="174.49" r="0.80" fill="#4a5a63"/>
<circle cx="220.04" cy="196.47" r="0.92" fill="#4a5a63"/>
<circle cx="222.53" cy="202.64" r="0.80" fill="#4a5a63"/>
<circle cx="232.88" cy="179.56" r="0.80" fill="#4a5a63"/>
<circle cx="237.26" cy="191.98" r="1.04" fill="#4a5a63"/>
<circle cx="218.36" cy="185.64" r="0.92" fill="#4a5a63"/>
<circle cx="241.55" cy="177.43" r="0.80" fill="#4a5a63"/>
<circle cx="228.47" cy="205.03" r="0.80" fill="#4a5a63"/>
<circle cx="245.35" cy="194.74" r="0.68" fill="#4a5a63"/>
<circle cx="241.04" cy="200.16" r="0.92" fill="#4a5a63"/>
<circle cx="227.54" cy="188.79" r="0.68" fill="#4a5a63"/>
<circle cx="236.46" cy="188.63" r="1.04" fill="#4a5a63"/>
<circle cx="226.69" cy="190.65" r="0.68" fill="#4a5a63"/>
<circle cx="234.57" cy="189.52" r="0.80" fill="#4a5a63"/>
<circle cx="237.46" cy="203.93" r="1.04" fill="#4a5a63"/>
<circle cx="248.11" cy="190.07" r="0.68" fill="#4a5a63"/>
<circle cx="229.87" cy="192.08" r="0.80" fill="#4a5a63"/>
<circle cx="216.81" cy="194.68" r="0.68" fill="#4a5a63"/>
<circle cx="243.21" cy="178.67" r="0.68" fill="#4a5a63"/>
<circle cx="234.63" cy="191.39" r="1.04" fill="#4a5a63"/>
<circle cx="237.27" cy="173.97" r="1.04" fill="#4a5a63"/>
<circle cx="242.60" cy="190.50" r="1.04" fill="#4a5a63"/>
<circle cx="220.35" cy="203.44" r="0.80" fill="#4a5a63"/>
<circle cx="235.13" cy="201.42" r="1.04" fill="#4a5a63"/>
<circle cx="226.18" cy="184.08" r="0.92" fill="#4a5a63"/>
<circle cx="222.61" cy="198.09" r="0.80" fill="#4a5a63"/>
<circle cx="244.94" cy="180.62" r="1.04" fill="#4a5a63"/>
<circle cx="227.02" cy="185.85" r="0.68" fill="#4a5a63"/>
<circle cx="218.05" cy="189.39" r="0.68" fill="#4a5a63"/>
<circle cx="244.03" cy="197.21" r="0.80" fill="#4a5a63"/>
<circle cx="238.23" cy="190.40" r="0.68" fill="#4a5a63"/>
<circle cx="229.60" cy="202.36" r="0.92" fill="#4a5a63"/>
<circle cx="234.29" cy="175.72" r="0.80" fill="#4a5a63"/>
<circle cx="243.60" cy="204.67" r="0.80" fill="#4a5a63"/>
<circle cx="219.93" cy="183.54" r="0.68" fill="#4a5a63"/>
<circle cx="235.19" cy="185.74" r="0.92" fill="#4a5a63"/>
<circle cx="222.97" cy="191.50" r="0.92" fill="#4a5a63"/>
<circle cx="229.58" cy="185.50" r="0.80" fill="#4a5a63"/>
<circle cx="237.00" cy="198.50" r="3.90" fill="#e8262b"/>
<circle cx="268.48" cy="166.88" r="0.95" fill="#3e4e58"/>
<circle cx="271.06" cy="167.78" r="0.95" fill="#3e4e58"/>
<circle cx="268.57" cy="169.82" r="1.09" fill="#3e4e58"/>
<circle cx="265.50" cy="167.73" r="0.81" fill="#3e4e58"/>
<circle cx="266.48" cy="164.56" r="0.95" fill="#3e4e58"/>
<circle cx="270.06" cy="164.40" r="0.95" fill="#3e4e58"/>
<circle cx="267.29" cy="182.80" r="0.95" fill="#3e4e58"/>
<circle cx="269.49" cy="182.80" r="0.95" fill="#3e4e58"/>
<circle cx="267.29" cy="198.20" r="0.95" fill="#3e4e58"/>
<circle cx="269.49" cy="198.20" r="0.95" fill="#3e4e58"/>
<circle cx="268.39" cy="200.10" r="1.23" fill="#3e4e58"/>
<circle cx="283.97" cy="166.66" r="1.23" fill="#3e4e58"/>
<circle cx="286.80" cy="167.68" r="0.95" fill="#3e4e58"/>
<circle cx="284.80" cy="169.47" r="1.09" fill="#3e4e58"/>
<circle cx="282.45" cy="169.31" r="0.95" fill="#3e4e58"/>
<circle cx="280.90" cy="167.38" r="0.95" fill="#3e4e58"/>
<circle cx="281.81" cy="164.69" r="1.23" fill="#3e4e58"/>
<circle cx="283.98" cy="163.93" r="0.95" fill="#3e4e58"/>
<circle cx="286.37" cy="165.15" r="1.09" fill="#3e4e58"/>
<circle cx="283.82" cy="182.69" r="0.95" fill="#3e4e58"/>
<circle cx="286.58" cy="183.54" r="0.95" fill="#3e4e58"/>
<circle cx="284.63" cy="185.59" r="0.95" fill="#3e4e58"/>
<circle cx="281.64" cy="184.70" r="0.95" fill="#3e4e58"/>
<circle cx="280.98" cy="182.03" r="0.95" fill="#3e4e58"/>
<circle cx="283.33" cy="179.80" r="0.95" fill="#3e4e58"/>
<circle cx="286.06" cy="180.77" r="1.23" fill="#3e4e58"/>
<circle cx="283.86" cy="197.70" r="1.09" fill="#3e4e58"/>
<circle cx="282.76" cy="199.60" r="0.95" fill="#3e4e58"/>
<circle cx="284.96" cy="199.60" r="1.09" fill="#3e4e58"/>
<circle cx="299.19" cy="166.80" r="0.95" fill="#3e4e58"/>
<circle cx="302.12" cy="167.62" r="0.95" fill="#3e4e58"/>
<circle cx="299.30" cy="169.76" r="0.95" fill="#3e4e58"/>
<circle cx="296.62" cy="167.89" r="0.81" fill="#3e4e58"/>
<circle cx="297.47" cy="164.48" r="1.09" fill="#3e4e58"/>
<circle cx="301.17" cy="164.40" r="0.95" fill="#3e4e58"/>
<circle cx="299.33" cy="181.00" r="1.09" fill="#3e4e58"/>
<circle cx="298.33" cy="182.80" r="0.95" fill="#3e4e58"/>
<circle cx="300.33" cy="182.80" r="0.95" fill="#3e4e58"/>
<circle cx="299.33" cy="184.60" r="1.09" fill="#3e4e58"/>
<circle cx="299.31" cy="198.75" r="1.09" fill="#3e4e58"/>
<circle cx="302.23" cy="200.23" r="0.81" fill="#3e4e58"/>
<circle cx="298.39" cy="202.95" r="1.23" fill="#3e4e58"/>
<circle cx="296.45" cy="197.54" r="0.95" fill="#3e4e58"/>
<circle cx="300.12" cy="194.96" r="0.95" fill="#3e4e58"/>
<circle cx="314.80" cy="166.80" r="1.09" fill="#3e4e58"/>
<circle cx="314.69" cy="181.42" r="1.09" fill="#3e4e58"/>
<circle cx="317.48" cy="182.32" r="0.95" fill="#3e4e58"/>
<circle cx="313.88" cy="184.09" r="0.95" fill="#3e4e58"/>
<circle cx="312.07" cy="180.53" r="0.81" fill="#3e4e58"/>
<circle cx="315.59" cy="178.39" r="0.81" fill="#3e4e58"/>
<circle cx="312.94" cy="195.73" r="1.01" fill="#3e4e58"/>
<circle cx="313.83" cy="193.71" r="0.90" fill="#3e4e58"/>
<circle cx="310.58" cy="195.55" r="0.78" fill="#3e4e58"/>
<circle cx="311.63" cy="193.79" r="0.78" fill="#3e4e58"/>
<circle cx="313.90" cy="197.56" r="0.78" fill="#3e4e58"/>
<circle cx="311.84" cy="197.58" r="0.66" fill="#3e4e58"/>
<circle cx="315.11" cy="195.56" r="0.78" fill="#3e4e58"/>
<circle cx="309.54" cy="193.84" r="1.01" fill="#3e4e58"/>
<circle cx="316.13" cy="197.65" r="1.01" fill="#3e4e58"/>
<circle cx="312.69" cy="199.38" r="0.66" fill="#3e4e58"/>
<circle cx="316.01" cy="193.71" r="0.78" fill="#3e4e58"/>
<circle cx="312.71" cy="191.79" r="0.78" fill="#3e4e58"/>
<circle cx="309.60" cy="197.50" r="0.90" fill="#3e4e58"/>
<circle cx="315.09" cy="191.78" r="0.78" fill="#3e4e58"/>
<circle cx="315.04" cy="199.53" r="0.78" fill="#3e4e58"/>
<circle cx="308.46" cy="195.60" r="0.78" fill="#3e4e58"/>
<circle cx="310.49" cy="199.55" r="1.01" fill="#3e4e58"/>
<circle cx="310.72" cy="191.66" r="0.78" fill="#3e4e58"/>
<circle cx="317.16" cy="195.59" r="1.01" fill="#3e4e58"/>
<circle cx="307.16" cy="197.36" r="1.01" fill="#3e4e58"/>
<circle cx="308.27" cy="199.44" r="1.01" fill="#3e4e58"/>
<circle cx="313.90" cy="201.28" r="0.66" fill="#3e4e58"/>
<circle cx="311.63" cy="201.44" r="0.78" fill="#3e4e58"/>
<circle cx="307.22" cy="193.71" r="0.78" fill="#3e4e58"/>
<circle cx="318.23" cy="197.54" r="0.66" fill="#3e4e58"/>
<circle cx="317.13" cy="199.29" r="0.78" fill="#3e4e58"/>
<circle cx="313.93" cy="189.99" r="0.90" fill="#3e4e58"/>
<circle cx="308.31" cy="191.83" r="0.90" fill="#3e4e58"/>
<circle cx="317.32" cy="191.76" r="0.90" fill="#3e4e58"/>
<circle cx="318.31" cy="193.67" r="0.90" fill="#3e4e58"/>
<circle cx="311.81" cy="189.82" r="0.90" fill="#3e4e58"/>
<circle cx="309.50" cy="189.94" r="0.78" fill="#3e4e58"/>
<circle cx="319.32" cy="195.60" r="0.78" fill="#3e4e58"/>
<circle cx="316.08" cy="189.75" r="0.78" fill="#3e4e58"/>
<circle cx="306.28" cy="195.66" r="0.66" fill="#3e4e58"/>
<circle cx="316.19" cy="201.28" r="0.78" fill="#3e4e58"/>
<circle cx="309.50" cy="201.21" r="0.78" fill="#3e4e58"/>
<circle cx="319.46" cy="191.87" r="1.01" fill="#3e4e58"/>
<circle cx="312.90" cy="188.12" r="0.78" fill="#3e4e58"/>
<circle cx="306.14" cy="191.67" r="1.01" fill="#3e4e58"/>
<circle cx="306.15" cy="199.42" r="1.01" fill="#3e4e58"/>
<circle cx="312.65" cy="203.13" r="0.66" fill="#3e4e58"/>
<circle cx="319.28" cy="199.53" r="0.90" fill="#3e4e58"/>
<circle cx="308.80" cy="196.10" r="1.15" fill="#2f8be0"/>
<circle cx="330.27" cy="164.90" r="0.95" fill="#3e4e58"/>
<circle cx="328.47" cy="166.80" r="1.23" fill="#3e4e58"/>
<circle cx="332.07" cy="166.80" r="0.95" fill="#3e4e58"/>
<circle cx="330.27" cy="168.70" r="0.81" fill="#3e4e58"/>
<circle cx="328.44" cy="180.80" r="0.95" fill="#3e4e58"/>
<circle cx="327.73" cy="184.80" r="0.95" fill="#3e4e58"/>
<circle cx="331.14" cy="177.94" r="0.95" fill="#3e4e58"/>
<circle cx="328.30" cy="187.90" r="0.81" fill="#3e4e58"/>
<circle cx="332.71" cy="183.48" r="0.81" fill="#3e4e58"/>
<circle cx="331.03" cy="187.66" r="1.23" fill="#3e4e58"/>
<circle cx="333.22" cy="186.24" r="1.09" fill="#3e4e58"/>
<circle cx="330.02" cy="184.33" r="1.09" fill="#3e4e58"/>
<circle cx="328.56" cy="178.58" r="0.95" fill="#3e4e58"/>
<circle cx="325.89" cy="182.42" r="1.09" fill="#3e4e58"/>
<circle cx="329.37" cy="199.80" r="0.95" fill="#3e4e58"/>
<circle cx="331.17" cy="198.00" r="0.95" fill="#3e4e58"/>
<circle cx="344.64" cy="166.10" r="0.81" fill="#3e4e58"/>
<circle cx="346.84" cy="166.10" r="0.95" fill="#3e4e58"/>
<circle cx="345.74" cy="168.00" r="0.95" fill="#3e4e58"/>
<circle cx="345.74" cy="180.90" r="1.09" fill="#3e4e58"/>
<circle cx="343.94" cy="182.80" r="1.09" fill="#3e4e58"/>
<circle cx="347.54" cy="182.80" r="0.95" fill="#3e4e58"/>
<circle cx="345.74" cy="184.70" r="1.23" fill="#3e4e58"/>
<circle cx="345.74" cy="198.90" r="1.09" fill="#3e4e58"/>
<circle cx="376.67" cy="166.75" r="1.23" fill="#3e4e58"/>
<circle cx="379.47" cy="167.70" r="1.09" fill="#3e4e58"/>
<circle cx="375.77" cy="169.57" r="1.23" fill="#3e4e58"/>
<circle cx="373.99" cy="165.88" r="1.23" fill="#3e4e58"/>
<circle cx="377.44" cy="163.86" r="0.81" fill="#3e4e58"/>
<circle cx="376.56" cy="182.70" r="0.95" fill="#3e4e58"/>
<circle cx="379.60" cy="183.77" r="0.95" fill="#3e4e58"/>
<circle cx="377.69" cy="185.52" r="0.81" fill="#3e4e58"/>
<circle cx="375.16" cy="185.22" r="1.23" fill="#3e4e58"/>
<circle cx="373.71" cy="183.35" r="0.81" fill="#3e4e58"/>
<circle cx="374.41" cy="180.74" r="0.81" fill="#3e4e58"/>
<circle cx="376.85" cy="179.76" r="0.95" fill="#3e4e58"/>
<circle cx="379.16" cy="181.23" r="1.09" fill="#3e4e58"/>
<circle cx="378.76" cy="196.22" r="0.98" fill="#3e4e58"/>
<circle cx="380.06" cy="199.21" r="0.72" fill="#3e4e58"/>
<circle cx="378.15" cy="202.20" r="0.85" fill="#3e4e58"/>
<circle cx="374.86" cy="201.38" r="1.10" fill="#3e4e58"/>
<circle cx="373.46" cy="198.43" r="1.10" fill="#3e4e58"/>
<circle cx="375.69" cy="195.79" r="0.85" fill="#3e4e58"/>
<circle cx="375.90" cy="198.50" r="1.90" fill="#44545d"/>
<circle cx="421.59" cy="181.90" r="0.95" fill="#3e4e58"/>
<circle cx="423.39" cy="183.70" r="0.81" fill="#3e4e58"/>
<circle cx="438.56" cy="166.80" r="1.09" fill="#3e4e58"/>
<circle cx="438.56" cy="182.80" r="1.09" fill="#3e4e58"/>
<circle cx="438.56" cy="198.90" r="1.09" fill="#3e4e58"/>
<circle cx="454.03" cy="180.90" r="1.09" fill="#3e4e58"/>
<circle cx="452.23" cy="182.80" r="0.81" fill="#3e4e58"/>
<circle cx="455.83" cy="182.80" r="1.23" fill="#3e4e58"/>
<circle cx="454.03" cy="184.70" r="0.95" fill="#3e4e58"/>
<circle cx="456.30" cy="181.20" r="0.92" fill="#30b0b8"/>
<circle cx="454.03" cy="198.90" r="1.09" fill="#3e4e58"/>
<circle cx="469.50" cy="166.80" r="1.09" fill="#3e4e58"/>
<circle cx="484.97" cy="198.90" r="1.09" fill="#3e4e58"/>
<circle cx="159.50" cy="257.10" r="0.95" fill="#3e4e58"/>
<circle cx="161.70" cy="257.10" r="1.09" fill="#3e4e58"/>
<circle cx="160.60" cy="259.00" r="1.23" fill="#3e4e58"/>
<circle cx="160.60" cy="256.80" r="1.10" fill="#3a4850"/>
<circle cx="160.60" cy="275.20" r="1.23" fill="#3e4e58"/>
<circle cx="158.80" cy="277.10" r="1.09" fill="#3e4e58"/>
<circle cx="162.40" cy="277.10" r="0.95" fill="#3e4e58"/>
<circle cx="160.60" cy="279.00" r="0.95" fill="#3e4e58"/>
<circle cx="159.60" cy="295.60" r="1.09" fill="#3e4e58"/>
<circle cx="161.60" cy="295.60" r="1.09" fill="#3e4e58"/>
<circle cx="159.60" cy="297.60" r="0.95" fill="#3e4e58"/>
<circle cx="161.60" cy="297.60" r="0.95" fill="#3e4e58"/>
<circle cx="187.44" cy="257.80" r="1.09" fill="#3e4e58"/>
<circle cx="187.44" cy="275.20" r="0.81" fill="#3e4e58"/>
<circle cx="185.64" cy="277.10" r="0.95" fill="#3e4e58"/>
<circle cx="189.24" cy="277.10" r="0.95" fill="#3e4e58"/>
<circle cx="187.44" cy="279.00" r="0.95" fill="#3e4e58"/>
<circle cx="187.46" cy="296.66" r="0.95" fill="#3e4e58"/>
<circle cx="190.27" cy="297.43" r="0.95" fill="#3e4e58"/>
<circle cx="188.15" cy="299.48" r="1.09" fill="#3e4e58"/>
<circle cx="185.25" cy="298.71" r="0.81" fill="#3e4e58"/>
<circle cx="184.70" cy="295.77" r="0.95" fill="#3e4e58"/>
<circle cx="186.83" cy="293.72" r="0.95" fill="#3e4e58"/>
<circle cx="189.69" cy="294.53" r="1.23" fill="#3e4e58"/>
<circle cx="187.44" cy="296.60" r="1.20" fill="#3a4850"/>
<circle cx="200.86" cy="257.80" r="1.09" fill="#3e4e58"/>
<circle cx="199.96" cy="276.20" r="0.81" fill="#3e4e58"/>
<circle cx="201.76" cy="278.00" r="0.95" fill="#3e4e58"/>
<circle cx="200.71" cy="296.64" r="0.95" fill="#3e4e58"/>
<circle cx="203.79" cy="297.54" r="1.09" fill="#3e4e58"/>
<circle cx="199.86" cy="299.33" r="1.09" fill="#3e4e58"/>
<circle cx="197.91" cy="295.61" r="1.09" fill="#3e4e58"/>
<circle cx="201.60" cy="293.87" r="0.95" fill="#3e4e58"/>
<circle cx="214.28" cy="296.60" r="1.26" fill="#3e4e58"/>
<circle cx="227.62" cy="277.13" r="0.81" fill="#3e4e58"/>
<circle cx="230.36" cy="277.85" r="0.95" fill="#3e4e58"/>
<circle cx="226.87" cy="279.78" r="1.23" fill="#3e4e58"/>
<circle cx="224.93" cy="276.21" r="0.95" fill="#3e4e58"/>
<circle cx="228.56" cy="274.22" r="1.09" fill="#3e4e58"/>
<circle cx="231.49" cy="296.98" r="1.23" fill="#3e4e58"/>
<circle cx="225.80" cy="296.25" r="1.23" fill="#3e4e58"/>
<circle cx="232.63" cy="294.27" r="0.81" fill="#3e4e58"/>
<circle cx="222.05" cy="296.53" r="1.23" fill="#3e4e58"/>
<circle cx="229.47" cy="292.09" r="1.23" fill="#3e4e58"/>
<circle cx="224.63" cy="293.37" r="1.23" fill="#3e4e58"/>
<circle cx="227.07" cy="298.20" r="1.23" fill="#3e4e58"/>
<circle cx="226.93" cy="294.33" r="0.95" fill="#3e4e58"/>
<circle cx="227.27" cy="301.78" r="1.09" fill="#3e4e58"/>
<circle cx="224.49" cy="299.03" r="1.23" fill="#3e4e58"/>
<circle cx="230.59" cy="300.38" r="0.81" fill="#3e4e58"/>
<circle cx="229.78" cy="295.22" r="1.09" fill="#3e4e58"/>
<circle cx="226.73" cy="291.36" r="0.95" fill="#3e4e58"/>
<circle cx="232.79" cy="299.17" r="0.95" fill="#3e4e58"/>
<circle cx="229.50" cy="298.14" r="1.23" fill="#3e4e58"/>
<circle cx="224.86" cy="301.47" r="1.23" fill="#3e4e58"/>
<circle cx="222.53" cy="294.32" r="0.95" fill="#3e4e58"/>
<circle cx="227.70" cy="295.10" r="1.50" fill="#3a4850"/>
<circle cx="241.12" cy="277.10" r="1.09" fill="#3e4e58"/>
<circle cx="241.12" cy="296.60" r="0.69" fill="#3e4e58"/>
<circle cx="254.54" cy="277.10" r="1.09" fill="#3e4e58"/>
<circle cx="254.54" cy="296.60" r="0.69" fill="#3e4e58"/>
<circle cx="267.86" cy="257.72" r="0.81" fill="#3e4e58"/>
<circle cx="270.79" cy="258.77" r="0.95" fill="#3e4e58"/>
<circle cx="268.67" cy="260.55" r="0.95" fill="#3e4e58"/>
<circle cx="265.67" cy="259.85" r="0.95" fill="#3e4e58"/>
<circle cx="265.09" cy="256.95" r="0.81" fill="#3e4e58"/>
<circle cx="267.35" cy="254.93" r="0.95" fill="#3e4e58"/>
<circle cx="270.18" cy="255.86" r="0.95" fill="#3e4e58"/>
<circle cx="267.96" cy="257.80" r="1.20" fill="#3a4850"/>
<circle cx="267.86" cy="277.24" r="0.81" fill="#3e4e58"/>
<circle cx="270.88" cy="277.87" r="0.81" fill="#3e4e58"/>
<circle cx="268.50" cy="279.98" r="0.95" fill="#3e4e58"/>
<circle cx="265.82" cy="279.14" r="1.23" fill="#3e4e58"/>
<circle cx="265.26" cy="276.09" r="0.81" fill="#3e4e58"/>
<circle cx="267.43" cy="274.23" r="1.09" fill="#3e4e58"/>
<circle cx="270.17" cy="275.21" r="0.95" fill="#3e4e58"/>
<circle cx="265.98" cy="296.93" r="0.81" fill="#3e4e58"/>
<circle cx="268.11" cy="292.05" r="1.09" fill="#3e4e58"/>
<circle cx="264.90" cy="293.57" r="0.81" fill="#3e4e58"/>
<circle cx="271.00" cy="299.30" r="0.81" fill="#3e4e58"/>
<circle cx="263.74" cy="297.61" r="1.09" fill="#3e4e58"/>
<circle cx="267.99" cy="295.84" r="0.81" fill="#3e4e58"/>
<circle cx="264.92" cy="299.97" r="0.95" fill="#3e4e58"/>
<circle cx="272.51" cy="296.39" r="1.23" fill="#3e4e58"/>
<circle cx="268.45" cy="298.72" r="1.09" fill="#3e4e58"/>
<circle cx="270.43" cy="294.27" r="0.81" fill="#3e4e58"/>
<circle cx="270.10" cy="297.23" r="0.95" fill="#3e4e58"/>
<circle cx="269.19" cy="301.04" r="1.09" fill="#3e4e58"/>
<circle cx="281.38" cy="277.10" r="1.09" fill="#3e4e58"/>
<circle cx="294.80" cy="257.80" r="0.69" fill="#3e4e58"/>
<circle cx="293.70" cy="276.40" r="0.95" fill="#3e4e58"/>
<circle cx="295.90" cy="276.40" r="1.09" fill="#3e4e58"/>
<circle cx="294.80" cy="278.30" r="0.95" fill="#3e4e58"/>
<circle cx="292.01" cy="296.61" r="0.95" fill="#3e4e58"/>
<circle cx="293.06" cy="293.16" r="1.23" fill="#3e4e58"/>
<circle cx="297.29" cy="298.62" r="0.81" fill="#3e4e58"/>
<circle cx="292.09" cy="299.85" r="0.95" fill="#3e4e58"/>
<circle cx="296.01" cy="295.32" r="0.81" fill="#3e4e58"/>
<circle cx="295.21" cy="299.44" r="1.09" fill="#3e4e58"/>
<circle cx="298.95" cy="296.50" r="1.09" fill="#3e4e58"/>
<circle cx="297.93" cy="293.59" r="0.95" fill="#3e4e58"/>
<circle cx="294.18" cy="297.39" r="1.23" fill="#3e4e58"/>
<circle cx="295.85" cy="292.58" r="1.23" fill="#3e4e58"/>
<circle cx="308.35" cy="257.90" r="0.95" fill="#3e4e58"/>
<circle cx="310.98" cy="258.62" r="1.23" fill="#3e4e58"/>
<circle cx="308.21" cy="260.87" r="1.09" fill="#3e4e58"/>
<circle cx="305.55" cy="258.84" r="0.95" fill="#3e4e58"/>
<circle cx="306.57" cy="255.37" r="1.09" fill="#3e4e58"/>
<circle cx="309.83" cy="255.40" r="0.81" fill="#3e4e58"/>
<circle cx="321.64" cy="275.30" r="1.09" fill="#3e4e58"/>
<circle cx="320.64" cy="277.10" r="0.95" fill="#3e4e58"/>
<circle cx="322.64" cy="277.10" r="0.81" fill="#3e4e58"/>
<circle cx="321.64" cy="278.90" r="1.09" fill="#3e4e58"/>
<circle cx="321.64" cy="294.70" r="1.23" fill="#3e4e58"/>
<circle cx="319.84" cy="296.60" r="1.09" fill="#3e4e58"/>
<circle cx="323.44" cy="296.60" r="1.23" fill="#3e4e58"/>
<circle cx="321.64" cy="298.50" r="0.81" fill="#3e4e58"/>
<circle cx="351.36" cy="277.28" r="0.85" fill="#3e4e58"/>
<circle cx="350.02" cy="279.63" r="0.98" fill="#3e4e58"/>
<circle cx="347.53" cy="280.29" r="0.85" fill="#3e4e58"/>
<circle cx="345.11" cy="278.67" r="0.72" fill="#3e4e58"/>
<circle cx="344.53" cy="276.17" r="0.85" fill="#3e4e58"/>
<circle cx="346.03" cy="273.75" r="0.85" fill="#3e4e58"/>
<circle cx="348.93" cy="273.05" r="0.72" fill="#3e4e58"/>
<circle cx="351.03" cy="274.93" r="1.10" fill="#3e4e58"/>
<circle cx="354.05" cy="276.88" r="0.85" fill="#3e4e58"/>
<circle cx="353.07" cy="279.61" r="0.85" fill="#3e4e58"/>
<circle cx="351.42" cy="281.78" r="0.85" fill="#3e4e58"/>
<circle cx="348.78" cy="282.84" r="0.98" fill="#3e4e58"/>
<circle cx="345.84" cy="282.64" r="0.72" fill="#3e4e58"/>
<circle cx="343.41" cy="280.60" r="0.85" fill="#3e4e58"/>
<circle cx="341.97" cy="278.25" r="0.98" fill="#3e4e58"/>
<circle cx="342.03" cy="275.31" r="0.98" fill="#3e4e58"/>
<circle cx="343.48" cy="272.97" r="0.72" fill="#3e4e58"/>
<circle cx="345.72" cy="270.94" r="1.10" fill="#3e4e58"/>
<circle cx="348.48" cy="270.85" r="1.10" fill="#3e4e58"/>
<circle cx="351.27" cy="272.01" r="0.85" fill="#3e4e58"/>
<circle cx="353.27" cy="274.02" r="0.72" fill="#3e4e58"/>
<circle cx="348.00" cy="276.80" r="2.10" fill="#e8262b"/>
<circle cx="347.38" cy="296.60" r="1.23" fill="#3e4e58"/>
<circle cx="349.58" cy="296.60" r="0.81" fill="#3e4e58"/>
<circle cx="375.32" cy="277.10" r="1.09" fill="#3e4e58"/>
<circle cx="427.90" cy="276.60" r="1.09" fill="#3e4e58"/>
<circle cx="430.10" cy="276.60" r="1.09" fill="#3e4e58"/>
<circle cx="429.00" cy="278.50" r="1.23" fill="#3e4e58"/>
<circle cx="433.55" cy="296.64" r="0.68" fill="#46565f"/>
<circle cx="419.52" cy="292.33" r="0.68" fill="#46565f"/>
<circle cx="420.73" cy="299.72" r="0.78" fill="#46565f"/>
<circle cx="432.28" cy="299.12" r="0.58" fill="#46565f"/>
<circle cx="427.25" cy="283.15" r="0.68" fill="#46565f"/>
<circle cx="422.78" cy="299.05" r="0.88" fill="#46565f"/>
<circle cx="420.82" cy="285.91" r="0.78" fill="#46565f"/>
<circle cx="421.09" cy="290.10" r="0.78" fill="#46565f"/>
<circle cx="423.69" cy="290.63" r="0.58" fill="#46565f"/>
<circle cx="427.98" cy="295.42" r="0.78" fill="#46565f"/>
<circle cx="434.52" cy="292.61" r="0.88" fill="#46565f"/>
<circle cx="424.66" cy="302.32" r="0.68" fill="#46565f"/>
<circle cx="429.23" cy="284.91" r="0.68" fill="#46565f"/>
<circle cx="419.07" cy="287.33" r="0.68" fill="#46565f"/>
<circle cx="417.93" cy="298.45" r="0.68" fill="#46565f"/>
<circle cx="424.08" cy="286.75" r="0.58" fill="#46565f"/>
<circle cx="423.88" cy="292.77" r="0.68" fill="#46565f"/>
<circle cx="430.92" cy="293.21" r="0.78" fill="#46565f"/>
<circle cx="427.79" cy="298.09" r="0.68" fill="#46565f"/>
<circle cx="422.34" cy="301.99" r="0.68" fill="#46565f"/>
<circle cx="423.65" cy="283.13" r="0.68" fill="#46565f"/>
<circle cx="426.96" cy="288.30" r="0.88" fill="#46565f"/>
<circle cx="416.47" cy="296.35" r="0.78" fill="#46565f"/>
<circle cx="433.80" cy="289.84" r="0.68" fill="#46565f"/>
<circle cx="418.08" cy="290.33" r="0.88" fill="#46565f"/>
<circle cx="424.59" cy="296.86" r="0.68" fill="#46565f"/>
<circle cx="429.79" cy="291.19" r="0.88" fill="#46565f"/>
<circle cx="427.89" cy="301.76" r="0.78" fill="#46565f"/>
<circle cx="425.68" cy="291.04" r="0.68" fill="#46565f"/>
<circle cx="416.47" cy="286.93" r="0.78" fill="#46565f"/>
<circle cx="423.55" cy="295.02" r="0.78" fill="#46565f"/>
<circle cx="432.56" cy="292.25" r="0.78" fill="#46565f"/>
<circle cx="426.18" cy="299.21" r="0.68" fill="#46565f"/>
<circle cx="425.91" cy="284.69" r="0.88" fill="#46565f"/>
<circle cx="419.08" cy="296.84" r="0.68" fill="#46565f"/>
<circle cx="421.89" cy="297.20" r="0.68" fill="#46565f"/>
<circle cx="428.86" cy="287.63" r="0.78" fill="#46565f"/>
<circle cx="431.56" cy="295.24" r="0.68" fill="#46565f"/>
<circle cx="421.42" cy="294.91" r="0.58" fill="#46565f"/>
<circle cx="432.35" cy="287.87" r="0.58" fill="#46565f"/>
<circle cx="420.97" cy="288.10" r="0.88" fill="#46565f"/>
<circle cx="434.79" cy="294.88" r="0.88" fill="#46565f"/>
<circle cx="426.43" cy="286.51" r="0.88" fill="#46565f"/>
<circle cx="417.40" cy="293.23" r="0.78" fill="#46565f"/>
<circle cx="416.01" cy="289.99" r="0.58" fill="#46565f"/>
<circle cx="431.20" cy="289.73" r="0.78" fill="#46565f"/>
<circle cx="430.15" cy="301.22" r="0.58" fill="#46565f"/>
<circle cx="422.08" cy="291.96" r="0.78" fill="#46565f"/>
<circle cx="425.19" cy="289.22" r="0.68" fill="#46565f"/>
<circle cx="423.08" cy="288.43" r="0.88" fill="#46565f"/>
<circle cx="427.85" cy="293.26" r="0.88" fill="#46565f"/>
<circle cx="428.25" cy="290.04" r="0.58" fill="#46565f"/>
<circle cx="425.44" cy="294.69" r="0.58" fill="#46565f"/>
<circle cx="414.68" cy="293.98" r="0.68" fill="#46565f"/>
<circle cx="418.49" cy="284.71" r="0.68" fill="#46565f"/>
<circle cx="431.39" cy="284.87" r="0.88" fill="#46565f"/>
<circle cx="421.61" cy="283.34" r="0.58" fill="#46565f"/>
<circle cx="418.95" cy="294.50" r="0.68" fill="#46565f"/>
<circle cx="429.62" cy="298.72" r="0.88" fill="#46565f"/>
<circle cx="416.03" cy="291.95" r="0.68" fill="#46565f"/>
<circle cx="429.40" cy="296.62" r="0.58" fill="#46565f"/>
<circle cx="433.14" cy="286.19" r="0.58" fill="#46565f"/>
<circle cx="430.73" cy="286.85" r="0.78" fill="#46565f"/>
<circle cx="426.55" cy="296.62" r="0.58" fill="#46565f"/>
<circle cx="422.68" cy="285.48" r="0.68" fill="#46565f"/>
<circle cx="431.42" cy="297.48" r="0.68" fill="#46565f"/>
<circle cx="418.61" cy="300.18" r="0.68" fill="#46565f"/>
<circle cx="434.27" cy="287.75" r="0.58" fill="#46565f"/>
<circle cx="429.71" cy="294.74" r="0.58" fill="#46565f"/>
<circle cx="424.00" cy="300.45" r="0.78" fill="#46565f"/>
<circle cx="435.49" cy="290.69" r="0.68" fill="#46565f"/>
<circle cx="417.54" cy="288.51" r="0.68" fill="#46565f"/>
<circle cx="425.98" cy="292.88" r="0.68" fill="#46565f"/>
<circle cx="455.84" cy="296.60" r="1.09" fill="#3e4e58"/>
<circle cx="469.26" cy="277.10" r="1.09" fill="#3e4e58"/>
<circle cx="482.68" cy="296.60" r="1.09" fill="#3e4e58"/>
<circle cx="492.83" cy="315.20" r="1.23" fill="#3e4e58"/>
<circle cx="495.22" cy="312.31" r="0.81" fill="#3e4e58"/>
<circle cx="492.39" cy="317.52" r="0.95" fill="#3e4e58"/>
<circle cx="497.66" cy="311.79" r="0.95" fill="#3e4e58"/>
<circle cx="498.68" cy="319.27" r="1.09" fill="#3e4e58"/>
<circle cx="497.49" cy="316.25" r="0.95" fill="#3e4e58"/>
<circle cx="495.38" cy="318.51" r="1.23" fill="#3e4e58"/>
<circle cx="499.98" cy="314.93" r="1.09" fill="#3e4e58"/>
<circle cx="499.70" cy="317.24" r="0.95" fill="#3e4e58"/>
<circle cx="496.75" cy="313.93" r="0.95" fill="#3e4e58"/>
<circle cx="160.80" cy="365.00" r="1.09" fill="#3e4e58"/>
<circle cx="160.80" cy="382.80" r="1.23" fill="#3e4e58"/>
<circle cx="159.00" cy="384.70" r="0.81" fill="#3e4e58"/>
<circle cx="162.60" cy="384.70" r="1.23" fill="#3e4e58"/>
<circle cx="160.80" cy="386.60" r="0.81" fill="#3e4e58"/>
<circle cx="159.70" cy="404.40" r="0.81" fill="#3e4e58"/>
<circle cx="161.90" cy="404.40" r="0.81" fill="#3e4e58"/>
<circle cx="176.75" cy="365.00" r="1.09" fill="#3e4e58"/>
<circle cx="176.75" cy="384.70" r="1.09" fill="#3e4e58"/>
<circle cx="191.80" cy="365.90" r="1.09" fill="#3e4e58"/>
<circle cx="193.60" cy="364.10" r="0.95" fill="#3e4e58"/>
<circle cx="192.55" cy="384.63" r="0.95" fill="#3e4e58"/>
<circle cx="195.41" cy="385.64" r="1.23" fill="#3e4e58"/>
<circle cx="193.88" cy="387.47" r="0.81" fill="#3e4e58"/>
<circle cx="191.16" cy="387.31" r="0.95" fill="#3e4e58"/>
<circle cx="189.78" cy="385.22" r="0.95" fill="#3e4e58"/>
<circle cx="190.49" cy="382.71" r="1.23" fill="#3e4e58"/>
<circle cx="193.01" cy="381.91" r="0.95" fill="#3e4e58"/>
<circle cx="195.18" cy="382.94" r="1.23" fill="#3e4e58"/>
<circle cx="195.81" cy="407.27" r="1.23" fill="#3e4e58"/>
<circle cx="189.25" cy="406.30" r="0.95" fill="#3e4e58"/>
<circle cx="190.74" cy="401.86" r="1.23" fill="#3e4e58"/>
<circle cx="191.87" cy="406.40" r="0.81" fill="#3e4e58"/>
<circle cx="196.44" cy="402.52" r="1.23" fill="#3e4e58"/>
<circle cx="197.05" cy="405.27" r="1.23" fill="#3e4e58"/>
<circle cx="193.82" cy="402.53" r="0.95" fill="#3e4e58"/>
<circle cx="190.95" cy="404.24" r="1.23" fill="#3e4e58"/>
<circle cx="194.07" cy="405.47" r="1.23" fill="#3e4e58"/>
<circle cx="208.65" cy="365.00" r="1.09" fill="#3e4e58"/>
<circle cx="208.56" cy="384.74" r="1.09" fill="#3e4e58"/>
<circle cx="211.39" cy="385.61" r="1.09" fill="#3e4e58"/>
<circle cx="207.70" cy="387.50" r="0.95" fill="#3e4e58"/>
<circle cx="205.89" cy="383.96" r="0.81" fill="#3e4e58"/>
<circle cx="209.59" cy="381.82" r="0.81" fill="#3e4e58"/>
<circle cx="211.45" cy="407.20" r="1.09" fill="#3e4e58"/>
<circle cx="208.12" cy="400.41" r="1.09" fill="#3e4e58"/>
<circle cx="205.68" cy="407.17" r="1.09" fill="#3e4e58"/>
<circle cx="210.60" cy="404.14" r="0.95" fill="#3e4e58"/>
<circle cx="208.52" cy="405.26" r="0.95" fill="#3e4e58"/>
<circle cx="212.96" cy="403.59" r="0.95" fill="#3e4e58"/>
<circle cx="209.51" cy="409.00" r="1.23" fill="#3e4e58"/>
<circle cx="205.22" cy="404.89" r="0.81" fill="#3e4e58"/>
<circle cx="205.66" cy="401.08" r="1.23" fill="#3e4e58"/>
<circle cx="211.36" cy="401.99" r="1.09" fill="#3e4e58"/>
<circle cx="208.06" cy="402.69" r="0.95" fill="#3e4e58"/>
<circle cx="204.19" cy="402.92" r="1.09" fill="#3e4e58"/>
<circle cx="240.55" cy="382.80" r="0.95" fill="#3e4e58"/>
<circle cx="238.75" cy="384.70" r="0.95" fill="#3e4e58"/>
<circle cx="242.35" cy="384.70" r="0.81" fill="#3e4e58"/>
<circle cx="240.55" cy="386.60" r="1.23" fill="#3e4e58"/>
<circle cx="240.55" cy="402.50" r="0.95" fill="#3e4e58"/>
<circle cx="238.75" cy="404.40" r="1.23" fill="#3e4e58"/>
<circle cx="242.35" cy="404.40" r="1.09" fill="#3e4e58"/>
<circle cx="240.55" cy="406.30" r="0.81" fill="#3e4e58"/>
<circle cx="256.50" cy="384.70" r="1.09" fill="#3e4e58"/>
<circle cx="256.50" cy="404.40" r="1.09" fill="#3e4e58"/>
<circle cx="272.44" cy="384.79" r="0.81" fill="#3e4e58"/>
<circle cx="275.13" cy="385.55" r="1.23" fill="#3e4e58"/>
<circle cx="271.61" cy="387.43" r="0.95" fill="#3e4e58"/>
<circle cx="269.72" cy="383.70" r="0.95" fill="#3e4e58"/>
<circle cx="273.27" cy="381.99" r="1.23" fill="#3e4e58"/>
<circle cx="272.45" cy="403.20" r="1.23" fill="#3e4e58"/>
<circle cx="271.35" cy="405.10" r="0.95" fill="#3e4e58"/>
<circle cx="273.55" cy="405.10" r="0.95" fill="#3e4e58"/>
<circle cx="287.30" cy="364.30" r="1.23" fill="#3e4e58"/>
<circle cx="289.50" cy="364.30" r="0.81" fill="#3e4e58"/>
<circle cx="288.40" cy="366.20" r="1.09" fill="#3e4e58"/>
<circle cx="286.74" cy="385.44" r="0.95" fill="#3e4e58"/>
<circle cx="289.35" cy="389.35" r="0.95" fill="#3e4e58"/>
<circle cx="287.63" cy="383.30" r="1.23" fill="#3e4e58"/>
<circle cx="290.55" cy="382.60" r="0.95" fill="#3e4e58"/>
<circle cx="286.94" cy="388.60" r="0.95" fill="#3e4e58"/>
<circle cx="289.42" cy="385.56" r="0.95" fill="#3e4e58"/>
<circle cx="292.56" cy="385.26" r="1.09" fill="#3e4e58"/>
<circle cx="286.37" cy="380.89" r="0.95" fill="#3e4e58"/>
<circle cx="284.27" cy="385.65" r="1.09" fill="#3e4e58"/>
<circle cx="289.74" cy="380.30" r="0.95" fill="#3e4e58"/>
<circle cx="290.91" cy="387.46" r="0.95" fill="#3e4e58"/>
<circle cx="284.48" cy="383.18" r="0.95" fill="#3e4e58"/>
<circle cx="287.66" cy="408.96" r="0.81" fill="#3e4e58"/>
<circle cx="289.16" cy="400.64" r="0.95" fill="#3e4e58"/>
<circle cx="285.20" cy="408.77" r="0.95" fill="#3e4e58"/>
<circle cx="290.87" cy="405.69" r="0.95" fill="#3e4e58"/>
<circle cx="293.83" cy="403.27" r="1.09" fill="#3e4e58"/>
<circle cx="286.03" cy="404.91" r="0.95" fill="#3e4e58"/>
<circle cx="287.49" cy="402.99" r="0.95" fill="#3e4e58"/>
<circle cx="285.04" cy="402.52" r="0.95" fill="#3e4e58"/>
<circle cx="286.67" cy="399.59" r="1.23" fill="#3e4e58"/>
<circle cx="289.34" cy="407.44" r="0.95" fill="#3e4e58"/>
<circle cx="291.46" cy="403.39" r="0.95" fill="#3e4e58"/>
<circle cx="283.26" cy="405.07" r="0.81" fill="#3e4e58"/>
<circle cx="290.92" cy="409.12" r="0.95" fill="#3e4e58"/>
<circle cx="292.38" cy="400.44" r="1.09" fill="#3e4e58"/>
<circle cx="293.63" cy="406.43" r="0.95" fill="#3e4e58"/>
<circle cx="288.23" cy="405.18" r="1.09" fill="#3e4e58"/>
<circle cx="284.43" cy="400.34" r="0.95" fill="#3e4e58"/>
<circle cx="319.73" cy="380.17" r="0.81" fill="#3e4e58"/>
<circle cx="317.27" cy="384.91" r="0.95" fill="#3e4e58"/>
<circle cx="321.22" cy="387.74" r="1.09" fill="#3e4e58"/>
<circle cx="322.84" cy="382.77" r="0.81" fill="#3e4e58"/>
<circle cx="319.27" cy="388.90" r="0.81" fill="#3e4e58"/>
<circle cx="316.54" cy="381.74" r="1.23" fill="#3e4e58"/>
<circle cx="322.90" cy="385.52" r="0.95" fill="#3e4e58"/>
<circle cx="315.79" cy="387.80" r="0.81" fill="#3e4e58"/>
<circle cx="315.08" cy="384.50" r="0.95" fill="#3e4e58"/>
<circle cx="320.28" cy="385.29" r="0.81" fill="#3e4e58"/>
<circle cx="318.59" cy="382.97" r="0.81" fill="#3e4e58"/>
<circle cx="317.97" cy="387.11" r="1.23" fill="#3e4e58"/>
<circle cx="315.34" cy="403.24" r="1.09" fill="#3e4e58"/>
<circle cx="320.14" cy="402.69" r="0.95" fill="#3e4e58"/>
<circle cx="318.69" cy="407.10" r="1.09" fill="#3e4e58"/>
<circle cx="323.21" cy="404.37" r="1.23" fill="#3e4e58"/>
<circle cx="316.57" cy="407.81" r="1.09" fill="#3e4e58"/>
<circle cx="321.31" cy="406.51" r="0.81" fill="#3e4e58"/>
<circle cx="316.86" cy="401.13" r="0.81" fill="#3e4e58"/>
<circle cx="320.35" cy="408.71" r="1.09" fill="#3e4e58"/>
<circle cx="322.48" cy="401.43" r="0.81" fill="#3e4e58"/>
<circle cx="317.74" cy="403.19" r="1.09" fill="#3e4e58"/>
<circle cx="319.90" cy="400.20" r="1.09" fill="#3e4e58"/>
<circle cx="316.88" cy="405.61" r="1.23" fill="#3e4e58"/>
<circle cx="336.01" cy="360.99" r="1.23" fill="#3e4e58"/>
<circle cx="332.57" cy="363.51" r="0.95" fill="#3e4e58"/>
<circle cx="332.37" cy="366.78" r="0.81" fill="#3e4e58"/>
<circle cx="336.77" cy="363.15" r="1.23" fill="#3e4e58"/>
<circle cx="336.01" cy="365.51" r="0.95" fill="#3e4e58"/>
<circle cx="337.06" cy="369.10" r="1.23" fill="#3e4e58"/>
<circle cx="335.04" cy="368.20" r="0.95" fill="#3e4e58"/>
<circle cx="339.47" cy="365.62" r="0.95" fill="#3e4e58"/>
<circle cx="333.71" cy="361.19" r="0.95" fill="#3e4e58"/>
<circle cx="338.35" cy="361.52" r="1.23" fill="#3e4e58"/>
<circle cx="338.92" cy="367.89" r="0.81" fill="#3e4e58"/>
<circle cx="330.56" cy="365.06" r="0.81" fill="#3e4e58"/>
<circle cx="334.15" cy="384.58" r="0.81" fill="#3e4e58"/>
<circle cx="339.87" cy="381.74" r="0.95" fill="#3e4e58"/>
<circle cx="335.64" cy="387.00" r="0.81" fill="#3e4e58"/>
<circle cx="337.96" cy="388.46" r="0.81" fill="#3e4e58"/>
<circle cx="330.94" cy="382.21" r="0.81" fill="#3e4e58"/>
<circle cx="335.27" cy="379.79" r="0.95" fill="#3e4e58"/>
<circle cx="333.28" cy="387.12" r="0.81" fill="#3e4e58"/>
<circle cx="332.99" cy="379.70" r="1.23" fill="#3e4e58"/>
<circle cx="337.67" cy="382.55" r="0.81" fill="#3e4e58"/>
<circle cx="329.98" cy="387.31" r="1.09" fill="#3e4e58"/>
<circle cx="339.78" cy="385.26" r="0.95" fill="#3e4e58"/>
<circle cx="335.80" cy="389.74" r="0.95" fill="#3e4e58"/>
<circle cx="335.31" cy="382.67" r="1.23" fill="#3e4e58"/>
<circle cx="331.64" cy="384.81" r="1.23" fill="#3e4e58"/>
<circle cx="337.57" cy="385.76" r="0.95" fill="#3e4e58"/>
<circle cx="333.37" cy="389.78" r="1.23" fill="#3e4e58"/>
<circle cx="329.36" cy="384.44" r="0.81" fill="#3e4e58"/>
<circle cx="340.20" cy="387.48" r="0.95" fill="#3e4e58"/>
<circle cx="337.92" cy="379.54" r="0.95" fill="#3e4e58"/>
<circle cx="333.12" cy="381.92" r="0.95" fill="#3e4e58"/>
<circle cx="334.24" cy="402.18" r="0.95" fill="#3e4e58"/>
<circle cx="336.14" cy="404.75" r="1.09" fill="#3e4e58"/>
<circle cx="336.89" cy="407.56" r="1.23" fill="#3e4e58"/>
<circle cx="332.61" cy="408.22" r="1.09" fill="#3e4e58"/>
<circle cx="334.20" cy="399.78" r="0.81" fill="#3e4e58"/>
<circle cx="339.19" cy="406.15" r="0.95" fill="#3e4e58"/>
<circle cx="332.03" cy="406.03" r="1.09" fill="#3e4e58"/>
<circle cx="331.53" cy="403.05" r="1.09" fill="#3e4e58"/>
<circle cx="336.52" cy="400.27" r="1.23" fill="#3e4e58"/>
<circle cx="337.82" cy="402.52" r="0.95" fill="#3e4e58"/>
<circle cx="339.63" cy="403.80" r="0.81" fill="#3e4e58"/>
<circle cx="334.28" cy="406.64" r="0.95" fill="#3e4e58"/>
<circle cx="351.10" cy="364.30" r="1.23" fill="#3e4e58"/>
<circle cx="353.30" cy="364.30" r="0.81" fill="#3e4e58"/>
<circle cx="352.20" cy="366.20" r="0.81" fill="#3e4e58"/>
<circle cx="352.20" cy="383.60" r="1.09" fill="#3e4e58"/>
<circle cx="352.20" cy="385.80" r="1.23" fill="#3e4e58"/>
<circle cx="352.31" cy="404.46" r="0.81" fill="#3e4e58"/>
<circle cx="355.06" cy="405.19" r="0.95" fill="#3e4e58"/>
<circle cx="352.31" cy="407.42" r="0.81" fill="#3e4e58"/>
<circle cx="349.52" cy="405.43" r="0.81" fill="#3e4e58"/>
<circle cx="350.38" cy="402.11" r="1.09" fill="#3e4e58"/>
<circle cx="353.92" cy="401.85" r="0.81" fill="#3e4e58"/>
<circle cx="384.10" cy="365.00" r="1.09" fill="#3e4e58"/>
<circle cx="383.00" cy="384.00" r="1.23" fill="#3e4e58"/>
<circle cx="385.20" cy="384.00" r="0.95" fill="#3e4e58"/>
<circle cx="384.10" cy="385.90" r="1.23" fill="#3e4e58"/>
<circle cx="399.15" cy="403.50" r="1.09" fill="#3e4e58"/>
<circle cx="400.95" cy="405.30" r="1.23" fill="#3e4e58"/>
<circle cx="416.00" cy="365.00" r="1.09" fill="#3e4e58"/>
<circle cx="416.00" cy="384.70" r="1.09" fill="#3e4e58"/>
<circle cx="416.00" cy="404.40" r="1.09" fill="#3e4e58"/>
<circle cx="431.05" cy="383.80" r="0.95" fill="#3e4e58"/>
<circle cx="432.85" cy="385.60" r="0.81" fill="#3e4e58"/>
<circle cx="431.95" cy="404.40" r="1.09" fill="#3e4e58"/>
<circle cx="447.90" cy="365.00" r="1.09" fill="#3e4e58"/>
<circle cx="447.90" cy="383.60" r="0.95" fill="#3e4e58"/>
<circle cx="447.90" cy="385.80" r="0.95" fill="#3e4e58"/>
<circle cx="447.90" cy="403.20" r="1.09" fill="#3e4e58"/>
<circle cx="446.80" cy="405.10" r="1.09" fill="#3e4e58"/>
<circle cx="449.00" cy="405.10" r="1.23" fill="#3e4e58"/>
<circle cx="463.85" cy="365.00" r="1.09" fill="#3e4e58"/>
<circle cx="462.75" cy="384.00" r="1.09" fill="#3e4e58"/>
<circle cx="464.95" cy="384.00" r="0.81" fill="#3e4e58"/>
<circle cx="463.85" cy="385.90" r="0.81" fill="#3e4e58"/>
<circle cx="463.85" cy="402.50" r="0.95" fill="#3e4e58"/>
<circle cx="462.05" cy="404.40" r="1.09" fill="#3e4e58"/>
<circle cx="465.65" cy="404.40" r="0.81" fill="#3e4e58"/>
<circle cx="463.85" cy="406.30" r="1.09" fill="#3e4e58"/>
<line x1="128.5" y1="136" x2="128.5" y2="145" stroke="#e6e6e6" stroke-width="0.8"/>
<text x="316" y="38" font-size="5.5" fill="#e9ecee" xml:space="preserve">V/5' gene</text>
<text x="319" y="140.5" font-size="5.5" fill="#e9ecee" xml:space="preserve">V/5' gene</text>
<text x="318" y="231" font-size="5.5" fill="#e9ecee" xml:space="preserve">V/5' gene</text>
<text x="318" y="341" font-size="5.5" fill="#e9ecee" xml:space="preserve">V/5' gene</text>
<rect x="249" y="209.6" width="142.5" height="14" fill="#fff"/>
<text x="256.7" y="121.2" font-size="10.3" fill="#fa0a0a" textLength="42.88" lengthAdjust="spacingAndGlyphs" stroke="#fa0a0a" stroke-width="0.12" xml:space="preserve">IGLV1-51</text>
<text x="302.1" y="121.2" font-size="10.3" fill="#fa0a0a" textLength="20.81" lengthAdjust="spacingAndGlyphs" stroke="#fa0a0a" stroke-width="0.12" xml:space="preserve">4//2</text>
<text x="326.7" y="121.2" font-size="10.3" fill="#fa0a0a" textLength="26.5" lengthAdjust="spacingAndGlyphs" stroke="#fa0a0a" stroke-width="0.12" xml:space="preserve">J3*02</text>
<text x="362.0" y="121.2" font-size="10.3" fill="#fa0a0a" textLength="22.31" lengthAdjust="spacingAndGlyphs" stroke="#fa0a0a" stroke-width="0.12" xml:space="preserve">2.2%</text>
<text x="249.3" y="219.0" font-size="10.3" fill="#fa0a0a" textLength="42.85" lengthAdjust="spacingAndGlyphs" stroke="#fa0a0a" stroke-width="0.12" xml:space="preserve">IGLV1-51</text>
<text x="294.9" y="219.0" font-size="10.3" fill="#fa0a0a" textLength="34.08" lengthAdjust="spacingAndGlyphs" stroke="#fa0a0a" stroke-width="0.12" xml:space="preserve">0/CC/3</text>
<text x="332.3" y="219.0" font-size="10.3" fill="#fa0a0a" textLength="25.86" lengthAdjust="spacingAndGlyphs" stroke="#fa0a0a" stroke-width="0.12" xml:space="preserve">J3*02</text>
<text x="366.7" y="219.0" font-size="10.3" fill="#fa0a0a" textLength="29.4" lengthAdjust="spacingAndGlyphs" stroke="#fa0a0a" stroke-width="0.12" xml:space="preserve">17.9%</text>
<text x="273.4" y="315.75" font-size="10.3" fill="#fa0a0a" textLength="35.92" lengthAdjust="spacingAndGlyphs" stroke="#fa0a0a" stroke-width="0.12" xml:space="preserve">IGLV3-1</text>
<text x="312.1" y="315.75" font-size="10.3" fill="#fa0a0a" textLength="21.86" lengthAdjust="spacingAndGlyphs" stroke="#fa0a0a" stroke-width="0.12" xml:space="preserve">2//2</text>
<text x="337.1" y="315.75" font-size="10.3" fill="#fa0a0a" textLength="9.04" lengthAdjust="spacingAndGlyphs" stroke="#fa0a0a" stroke-width="0.12" xml:space="preserve">J2</text>
<text x="354.6" y="315.75" font-size="10.3" fill="#fa0a0a" textLength="22.74" lengthAdjust="spacingAndGlyphs" stroke="#fa0a0a" stroke-width="0.12" xml:space="preserve">2.7%</text>
<text x="255.0" y="423.8" font-size="10.3" fill="#fa0a0a" textLength="14.51" lengthAdjust="spacingAndGlyphs" stroke="#fa0a0a" stroke-width="0.12" xml:space="preserve">No</text>
<text x="277.6" y="423.8" font-size="10.3" fill="#fa0a0a" textLength="29.89" lengthAdjust="spacingAndGlyphs" stroke="#fa0a0a" stroke-width="0.12" xml:space="preserve">clones</text>
<text x="308.9" y="423.8" font-size="10.3" fill="#fa0a0a" textLength="26.68" lengthAdjust="spacingAndGlyphs" stroke="#fa0a0a" stroke-width="0.12" xml:space="preserve">more</text>
<text x="339.5" y="423.8" font-size="10.3" fill="#fa0a0a" textLength="20.81" lengthAdjust="spacingAndGlyphs" stroke="#fa0a0a" stroke-width="0.12" xml:space="preserve">than</text>
<text x="362.8" y="423.8" font-size="10.3" fill="#fa0a0a" textLength="23.13" lengthAdjust="spacingAndGlyphs" stroke="#fa0a0a" stroke-width="0.12" xml:space="preserve">1.0%</text>
</svg>
</body></html>
